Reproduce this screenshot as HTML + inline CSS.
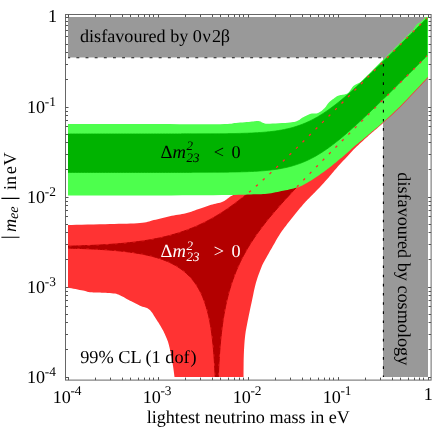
<!DOCTYPE html>
<html><head><meta charset="utf-8"><title>plot</title>
<style>
html,body{margin:0;padding:0;background:#fff;}
body{width:436px;height:436px;overflow:hidden;position:relative;font-family:"Liberation Serif",serif;}
text{font-family:"Liberation Serif",serif;text-rendering:geometricPrecision;}
</style></head><body>
<svg width="436" height="436" viewBox="0 0 436 436" style="position:absolute;left:0;top:0;will-change:transform">
<rect x="0" y="0" width="436" height="436" fill="#fff"/>
<path d="M68,17 H428 V377 H383 V57.6 H68 Z" fill="#999999"/>
<defs><clipPath id="c"><rect x="68" y="17" width="360" height="360"/></clipPath></defs>
<defs><clipPath id="cgreen"><path d="M60.00,124.00 L60.11,124.00 L59.70,124.00 L59.16,124.00 L58.88,124.00 L59.23,124.00 L60.61,124.00 L63.40,124.00 L68.00,124.00 L74.79,124.00 L83.58,124.00 L93.86,123.99 L105.12,123.99 L116.88,123.99 L128.61,123.99 L139.82,123.99 L150.00,124.00 L159.69,124.03 L169.61,124.07 L179.50,124.13 L189.12,124.18 L198.23,124.23 L206.58,124.25 L213.92,124.25 L220.00,124.20 L224.58,124.11 L227.80,123.98 L229.96,123.82 L231.38,123.64 L232.37,123.45 L233.27,123.26 L234.37,123.07 L236.00,122.90 L238.06,122.73 L240.22,122.56 L242.42,122.38 L244.59,122.21 L246.70,122.04 L248.67,121.88 L250.45,121.73 L252.00,121.60 L253.28,121.47 L254.33,121.34 L255.21,121.21 L255.95,121.10 L256.60,121.01 L257.22,120.96 L257.83,120.95 L258.50,121.00 L259.18,121.13 L259.82,121.32 L260.43,121.58 L261.01,121.86 L261.58,122.16 L262.15,122.44 L262.72,122.70 L263.30,122.90 L263.77,123.07 L264.08,123.22 L264.31,123.37 L264.58,123.49 L264.97,123.59 L265.61,123.67 L266.59,123.70 L268.00,123.70 L270.02,123.65 L272.61,123.56 L275.60,123.43 L278.79,123.27 L282.02,123.09 L285.08,122.90 L287.80,122.70 L290.00,122.50 L291.69,122.30 L293.06,122.10 L294.17,121.90 L295.07,121.67 L295.85,121.44 L296.55,121.18 L297.25,120.90 L298.00,120.60 L298.73,120.27 L299.35,119.90 L299.89,119.52 L300.39,119.11 L300.90,118.69 L301.44,118.27 L302.06,117.83 L302.80,117.40 L303.66,116.94 L304.61,116.44 L305.64,115.92 L306.70,115.39 L307.78,114.89 L308.86,114.43 L309.91,114.02 L310.90,113.70 L311.85,113.50 L312.78,113.41 L313.70,113.40 L314.61,113.42 L315.50,113.43 L316.38,113.39 L317.24,113.26 L318.10,113.00 L318.95,112.60 L319.81,112.10 L320.66,111.52 L321.50,110.89 L322.31,110.22 L323.09,109.53 L323.82,108.85 L324.50,108.20 L325.11,107.55 L325.65,106.88 L326.14,106.19 L326.60,105.50 L327.05,104.81 L327.50,104.15 L327.98,103.50 L328.50,102.90 L329.06,102.33 L329.64,101.79 L330.24,101.27 L330.84,100.77 L331.46,100.28 L332.07,99.81 L332.69,99.35 L333.30,98.90 L333.90,98.45 L334.48,98.00 L335.06,97.56 L335.65,97.13 L336.25,96.73 L336.87,96.35 L337.52,96.00 L338.20,95.70 L338.94,95.45 L339.75,95.26 L340.60,95.10 L341.46,94.97 L342.31,94.85 L343.13,94.72 L343.90,94.58 L344.60,94.40 L345.21,94.22 L345.77,94.05 L346.28,93.89 L346.75,93.72 L347.21,93.51 L347.66,93.25 L348.12,92.92 L348.60,92.50 L349.11,91.96 L349.62,91.29 L350.14,90.53 L350.65,89.74 L351.16,88.94 L351.66,88.17 L352.14,87.48 L352.60,86.90 L353.03,86.44 L353.43,86.04 L353.81,85.71 L354.19,85.42 L354.56,85.16 L354.95,84.91 L355.36,84.66 L355.80,84.40 L356.28,84.15 L356.78,83.93 L357.31,83.73 L357.84,83.54 L358.39,83.33 L358.93,83.10 L359.47,82.83 L360.00,82.50 L360.44,82.19 L360.76,81.94 L361.03,81.71 L361.32,81.42 L361.70,81.02 L362.25,80.46 L363.02,79.67 L364.10,78.60 L365.49,77.22 L367.15,75.59 L369.02,73.73 L371.06,71.71 L373.22,69.56 L375.46,67.32 L377.74,65.06 L380.00,62.80 L382.36,60.45 L384.90,57.91 L387.55,55.26 L390.24,52.56 L392.91,49.90 L395.47,47.34 L397.85,44.95 L400.00,42.80 L401.93,40.88 L403.73,39.11 L405.39,37.48 L406.94,35.96 L408.36,34.55 L409.68,33.23 L410.89,31.99 L412.00,30.80 L412.97,29.69 L413.78,28.66 L414.46,27.73 L415.04,26.88 L415.55,26.10 L416.03,25.40 L416.50,24.77 L417.00,24.20 L417.50,23.74 L417.96,23.41 L418.38,23.17 L418.79,23.00 L419.18,22.85 L419.57,22.69 L419.98,22.49 L420.40,22.20 L420.84,21.85 L421.28,21.46 L421.72,21.05 L422.16,20.63 L422.61,20.18 L423.07,19.72 L423.53,19.26 L424.00,18.80 L424.48,18.33 L424.97,17.84 L425.47,17.34 L425.98,16.84 L426.48,16.33 L426.99,15.81 L427.50,15.30 L428.00,14.80 L428.53,14.27 L429.09,13.71 L429.68,13.12 L430.25,12.55 L430.79,12.01 L431.28,11.52 L431.69,11.11 L432.00,10.80 L432.00,73.00 L431.86,73.13 L431.84,73.12 L431.85,73.09 L431.75,73.16 L431.43,73.46 L430.78,74.12 L429.68,75.26 L428.00,77.00 L425.59,79.53 L422.50,82.82 L418.91,86.64 L415.00,90.79 L410.97,95.06 L407.00,99.22 L403.28,103.07 L400.00,106.40 L397.03,109.32 L394.12,112.10 L391.33,114.71 L388.66,117.14 L386.17,119.39 L383.87,121.44 L381.80,123.28 L380.00,124.90 L378.55,126.19 L377.47,127.13 L376.66,127.81 L376.02,128.31 L375.48,128.73 L374.92,129.16 L374.26,129.69 L373.40,130.40 L372.37,131.28 L371.28,132.22 L370.14,133.20 L368.96,134.23 L367.76,135.26 L366.56,136.30 L365.37,137.32 L364.20,138.30 L363.05,139.25 L361.90,140.19 L360.75,141.11 L359.59,142.03 L358.44,142.95 L357.29,143.89 L356.15,144.83 L355.00,145.80 L353.86,146.79 L352.72,147.81 L351.58,148.85 L350.45,149.89 L349.32,150.93 L348.18,151.97 L347.04,152.99 L345.90,154.00 L344.75,154.99 L343.61,155.97 L342.46,156.94 L341.31,157.90 L340.15,158.86 L339.00,159.81 L337.85,160.76 L336.70,161.70 L335.55,162.64 L334.40,163.59 L333.25,164.53 L332.10,165.47 L330.95,166.40 L329.80,167.31 L328.65,168.22 L327.50,169.10 L326.35,169.97 L325.20,170.82 L324.05,171.66 L322.89,172.49 L321.74,173.31 L320.59,174.12 L319.45,174.91 L318.30,175.70 L317.16,176.48 L316.02,177.25 L314.88,178.01 L313.75,178.76 L312.62,179.49 L311.48,180.21 L310.34,180.92 L309.20,181.60 L308.06,182.27 L306.93,182.94 L305.79,183.60 L304.66,184.24 L303.51,184.86 L302.36,185.45 L301.19,185.99 L300.00,186.50 L298.77,186.96 L297.49,187.38 L296.18,187.76 L294.86,188.11 L293.57,188.44 L292.31,188.74 L291.11,189.03 L290.00,189.30 L289.04,189.54 L288.25,189.73 L287.55,189.89 L286.88,190.04 L286.15,190.18 L285.31,190.35 L284.29,190.55 L283.00,190.80 L281.43,191.12 L279.63,191.50 L277.66,191.92 L275.56,192.36 L273.40,192.78 L271.21,193.18 L269.06,193.53 L267.00,193.80 L265.04,193.99 L263.14,194.12 L261.26,194.20 L259.38,194.25 L257.44,194.28 L255.42,194.31 L253.29,194.34 L251.00,194.40 L248.93,194.48 L247.26,194.55 L245.69,194.63 L243.94,194.71 L241.69,194.78 L238.65,194.86 L234.52,194.93 L229.00,195.00 L221.87,195.07 L213.33,195.14 L203.68,195.22 L193.25,195.29 L182.35,195.35 L171.30,195.41 L160.41,195.46 L150.00,195.50 L139.39,195.52 L127.98,195.54 L116.22,195.54 L104.56,195.53 L93.46,195.52 L83.37,195.51 L74.73,195.50 L68.00,195.50 L63.40,195.50 L60.61,195.50 L59.23,195.50 L58.88,195.50 L59.16,195.50 L59.70,195.50 L60.11,195.50 L60.00,195.50Z"/></clipPath><clipPath id="cred"><path d="M60.00,195.50 L60.11,195.50 L59.70,195.50 L59.16,195.50 L58.88,195.50 L59.23,195.50 L60.61,195.50 L63.40,195.50 L68.00,195.50 L74.73,195.50 L83.37,195.51 L93.46,195.52 L104.56,195.53 L116.22,195.54 L127.98,195.54 L139.39,195.52 L150.00,195.50 L160.41,195.46 L171.30,195.41 L182.35,195.35 L193.25,195.29 L203.68,195.22 L213.33,195.14 L221.87,195.07 L229.00,195.00 L234.52,194.93 L238.65,194.86 L241.69,194.78 L243.94,194.71 L245.69,194.63 L247.26,194.55 L248.93,194.48 L251.00,194.40 L253.29,194.34 L255.42,194.31 L257.44,194.28 L259.38,194.25 L261.26,194.20 L263.14,194.12 L265.04,193.99 L267.00,193.80 L269.06,193.53 L271.21,193.18 L273.40,192.78 L275.56,192.36 L277.66,191.92 L279.63,191.50 L281.43,191.12 L283.00,190.80 L284.29,190.55 L285.31,190.35 L286.15,190.18 L286.88,190.04 L287.55,189.89 L288.25,189.73 L289.04,189.54 L290.00,189.30 L291.11,189.03 L292.31,188.74 L293.57,188.44 L294.86,188.11 L296.18,187.76 L297.49,187.38 L298.77,186.96 L300.00,186.50 L301.19,185.99 L302.36,185.45 L303.51,184.86 L304.66,184.24 L305.79,183.60 L306.93,182.94 L308.06,182.27 L309.20,181.60 L310.34,180.92 L311.48,180.21 L312.62,179.49 L313.75,178.76 L314.88,178.01 L316.02,177.25 L317.16,176.48 L318.30,175.70 L319.45,174.91 L320.59,174.12 L321.74,173.31 L322.89,172.49 L324.05,171.66 L325.20,170.82 L326.35,169.97 L327.50,169.10 L328.65,168.22 L329.80,167.31 L330.95,166.40 L332.10,165.47 L333.25,164.53 L334.40,163.59 L335.55,162.64 L336.70,161.70 L337.85,160.76 L339.00,159.81 L340.15,158.86 L341.31,157.90 L342.46,156.94 L343.61,155.97 L344.75,154.99 L345.90,154.00 L347.04,152.99 L348.18,151.97 L349.32,150.93 L350.45,149.89 L351.58,148.85 L352.72,147.81 L353.86,146.79 L355.00,145.80 L356.15,144.83 L357.29,143.89 L358.44,142.95 L359.59,142.03 L360.75,141.11 L361.90,140.19 L363.05,139.25 L364.20,138.30 L365.37,137.32 L366.56,136.30 L367.76,135.26 L368.96,134.23 L370.14,133.20 L371.28,132.22 L372.37,131.28 L373.40,130.40 L374.26,129.69 L374.92,129.16 L375.48,128.73 L376.02,128.31 L376.66,127.81 L377.47,127.13 L378.55,126.19 L380.00,124.90 L381.80,123.28 L383.87,121.44 L386.17,119.39 L388.66,117.14 L391.33,114.71 L394.12,112.10 L397.03,109.32 L400.00,106.40 L403.28,103.07 L407.00,99.22 L410.97,95.06 L415.00,90.79 L418.91,86.64 L422.50,82.82 L425.59,79.53 L428.00,77.00 L429.68,75.26 L430.78,74.12 L431.43,73.46 L431.75,73.16 L431.85,73.09 L431.84,73.12 L431.86,73.13 L432.00,73.00 L432,382 L60,382 Z"/></clipPath></defs>
<g clip-path="url(#c)">
<path d="M60.00,225.00 L60.38,225.01 L60.64,225.02 L60.92,225.04 L61.38,225.06 L62.16,225.07 L63.42,225.07 L65.32,225.05 L68.00,225.00 L71.71,224.92 L76.39,224.82 L81.79,224.69 L87.62,224.56 L93.63,224.41 L99.55,224.27 L105.09,224.13 L110.00,224.00 L114.43,223.90 L118.72,223.82 L122.84,223.75 L126.76,223.68 L130.46,223.59 L133.92,223.47 L137.11,223.31 L140.00,223.10 L142.49,222.83 L144.54,222.52 L146.26,222.17 L147.78,221.79 L149.18,221.38 L150.58,220.96 L152.08,220.53 L153.80,220.10 L155.69,219.65 L157.64,219.16 L159.63,218.66 L161.66,218.14 L163.70,217.63 L165.74,217.13 L167.78,216.65 L169.80,216.20 L171.82,215.80 L173.87,215.44 L175.94,215.11 L177.99,214.79 L180.03,214.47 L182.04,214.12 L184.00,213.74 L185.90,213.30 L187.74,212.80 L189.55,212.25 L191.31,211.67 L193.04,211.06 L194.73,210.45 L196.39,209.84 L198.01,209.25 L199.60,208.70 L201.14,208.17 L202.63,207.65 L204.07,207.15 L205.49,206.65 L206.88,206.17 L208.28,205.70 L209.68,205.24 L211.10,204.80 L212.57,204.39 L214.09,204.02 L215.62,203.68 L217.14,203.34 L218.63,203.00 L220.06,202.64 L221.39,202.25 L222.60,201.80 L223.70,201.29 L224.71,200.71 L225.63,200.09 L226.49,199.45 L227.29,198.82 L228.04,198.22 L228.74,197.67 L229.40,197.20 L229.98,196.83 L230.45,196.55 L230.83,196.32 L231.19,196.12 L231.54,195.92 L231.94,195.69 L232.41,195.39 L233.00,195.00 L233.76,194.47 L234.67,193.83 L235.68,193.11 L236.72,192.36 L237.74,191.63 L238.66,190.96 L239.44,190.40 L240.00,190.00 L300.00,150.00 L432.00,20.00 L432.00,74.00 L431.86,74.13 L431.84,74.12 L431.85,74.09 L431.75,74.16 L431.43,74.46 L430.78,75.12 L429.68,76.26 L428.00,78.00 L425.59,80.53 L422.50,83.82 L418.91,87.65 L415.00,91.80 L410.97,96.06 L407.00,100.23 L403.28,104.08 L400.00,107.40 L397.03,110.31 L394.12,113.07 L391.33,115.67 L388.66,118.09 L386.17,120.32 L383.87,122.36 L381.80,124.19 L380.00,125.80 L378.55,127.09 L377.47,128.04 L376.66,128.72 L376.03,129.24 L375.48,129.67 L374.92,130.12 L374.26,130.66 L373.40,131.40 L372.37,132.30 L371.28,133.26 L370.14,134.27 L368.96,135.31 L367.76,136.38 L366.56,137.46 L365.37,138.54 L364.20,139.60 L363.05,140.65 L361.90,141.70 L360.75,142.75 L359.59,143.81 L358.44,144.88 L357.29,145.96 L356.15,147.07 L355.00,148.20 L353.86,149.36 L352.72,150.54 L351.58,151.74 L350.45,152.96 L349.32,154.19 L348.18,155.43 L347.04,156.67 L345.90,157.90 L344.75,159.13 L343.61,160.36 L342.46,161.59 L341.31,162.83 L340.15,164.08 L339.00,165.34 L337.85,166.61 L336.70,167.90 L335.55,169.22 L334.40,170.56 L333.25,171.92 L332.10,173.29 L330.95,174.67 L329.80,176.03 L328.65,177.38 L327.50,178.70 L326.34,180.01 L325.16,181.34 L323.97,182.66 L322.78,183.96 L321.61,185.24 L320.47,186.48 L319.36,187.67 L318.30,188.80 L317.29,189.86 L316.33,190.85 L315.40,191.79 L314.50,192.69 L313.62,193.57 L312.75,194.43 L311.88,195.31 L311.00,196.20 L310.13,197.09 L309.29,197.94 L308.47,198.78 L307.64,199.62 L306.82,200.47 L305.97,201.36 L305.10,202.30 L304.20,203.30 L303.26,204.37 L302.28,205.49 L301.29,206.66 L300.27,207.87 L299.25,209.10 L298.23,210.33 L297.21,211.57 L296.20,212.80 L295.20,214.02 L294.20,215.24 L293.20,216.47 L292.21,217.71 L291.21,218.95 L290.21,220.22 L289.20,221.50 L288.20,222.80 L287.19,224.11 L286.18,225.42 L285.17,226.74 L284.15,228.08 L283.13,229.44 L282.12,230.84 L281.11,232.29 L280.10,233.80 L279.08,235.39 L278.05,237.08 L277.01,238.83 L275.98,240.61 L274.96,242.39 L273.96,244.14 L273.01,245.82 L272.10,247.40 L271.23,248.90 L270.40,250.36 L269.59,251.76 L268.82,253.13 L268.07,254.46 L267.35,255.74 L266.66,256.99 L266.00,258.20 L265.39,259.30 L264.83,260.27 L264.32,261.15 L263.82,262.02 L263.34,262.93 L262.83,263.94 L262.29,265.11 L261.70,266.50 L261.04,268.13 L260.33,269.95 L259.59,271.91 L258.82,273.98 L258.07,276.12 L257.33,278.30 L256.64,280.47 L256.00,282.60 L255.43,284.67 L254.92,286.73 L254.45,288.78 L253.99,290.87 L253.55,293.01 L253.10,295.23 L252.62,297.55 L252.10,300.00 L251.53,302.67 L250.90,305.57 L250.26,308.61 L249.60,311.71 L248.96,314.79 L248.35,317.75 L247.79,320.52 L247.30,323.00 L246.89,325.15 L246.52,327.04 L246.21,328.73 L245.93,330.31 L245.67,331.85 L245.44,333.43 L245.22,335.12 L245.00,337.00 L244.79,339.03 L244.60,341.12 L244.43,343.28 L244.28,345.50 L244.14,347.78 L244.01,350.12 L243.90,352.53 L243.80,355.00 L243.72,357.67 L243.65,360.62 L243.61,363.70 L243.58,366.81 L243.55,369.82 L243.53,372.60 L243.52,375.04 L243.50,377.00 L243.49,378.47 L243.48,379.56 L243.48,380.34 L243.48,380.88 L243.49,381.24 L243.49,381.50 L243.50,381.73 L243.50,382.00 L174.60,382.00 L174.60,381.63 L174.61,381.22 L174.63,380.73 L174.64,380.15 L174.64,379.44 L174.60,378.58 L174.53,377.54 L174.40,376.30 L174.22,374.79 L174.00,373.03 L173.74,371.06 L173.45,368.95 L173.14,366.76 L172.80,364.55 L172.45,362.38 L172.10,360.30 L171.73,358.25 L171.33,356.12 L170.91,353.97 L170.47,351.82 L170.03,349.74 L169.58,347.74 L169.14,345.88 L168.70,344.20 L168.27,342.70 L167.83,341.36 L167.39,340.14 L166.95,339.02 L166.51,337.97 L166.07,336.97 L165.63,335.99 L165.20,335.00 L164.79,334.05 L164.40,333.19 L164.02,332.38 L163.64,331.60 L163.24,330.82 L162.81,330.01 L162.33,329.15 L161.80,328.20 L161.21,327.17 L160.56,326.08 L159.88,324.94 L159.17,323.77 L158.43,322.58 L157.66,321.38 L156.89,320.19 L156.10,319.00 L155.31,317.78 L154.51,316.49 L153.70,315.17 L152.87,313.86 L152.01,312.59 L151.11,311.39 L150.18,310.32 L149.20,309.40 L148.17,308.67 L147.11,308.11 L146.01,307.67 L144.87,307.31 L143.70,306.97 L142.49,306.63 L141.26,306.22 L140.00,305.70 L138.67,305.07 L137.24,304.37 L135.75,303.62 L134.25,302.85 L132.77,302.08 L131.34,301.33 L130.00,300.63 L128.80,300.00 L127.74,299.43 L126.80,298.91 L125.94,298.42 L125.14,297.96 L124.37,297.53 L123.61,297.11 L122.83,296.70 L122.00,296.30 L121.19,295.90 L120.45,295.51 L119.74,295.14 L119.01,294.78 L118.22,294.44 L117.32,294.13 L116.26,293.85 L115.00,293.60 L113.48,293.39 L111.70,293.22 L109.75,293.07 L107.70,292.96 L105.62,292.86 L103.60,292.77 L101.70,292.68 L100.00,292.60 L98.47,292.53 L97.03,292.49 L95.67,292.46 L94.39,292.44 L93.17,292.41 L92.00,292.37 L90.88,292.30 L89.80,292.20 L88.84,292.07 L88.05,291.91 L87.36,291.74 L86.70,291.55 L86.00,291.34 L85.20,291.11 L84.22,290.87 L83.00,290.60 L81.47,290.29 L79.66,289.92 L77.67,289.51 L75.58,289.10 L73.47,288.70 L71.45,288.33 L69.60,288.02 L68.00,287.80 L66.61,287.67 L65.32,287.60 L64.14,287.59 L63.06,287.62 L62.11,287.68 L61.27,287.73 L60.57,287.78 L60.00,287.80Z" fill="#ff3333"/>
<path d="M68.00,246.18 L69.50,246.14 L71.00,246.10 L72.50,246.06 L74.00,246.02 L75.50,245.97 L77.00,245.93 L78.50,245.88 L80.00,245.83 L81.50,245.78 L83.00,245.73 L84.50,245.68 L86.00,245.62 L87.50,245.56 L89.00,245.50 L90.50,245.44 L92.00,245.37 L93.50,245.31 L95.00,245.24 L96.50,245.16 L98.00,245.09 L99.50,245.01 L101.00,244.93 L102.50,244.84 L104.00,244.75 L105.50,244.66 L107.00,244.57 L108.50,244.47 L110.00,244.37 L111.50,244.26 L113.00,244.15 L114.50,244.04 L116.00,243.92 L117.50,243.80 L119.00,243.68 L120.50,243.55 L122.00,243.41 L123.50,243.27 L125.00,243.13 L126.50,242.97 L128.00,242.82 L129.50,242.66 L131.00,242.49 L132.50,242.32 L134.00,242.14 L135.50,241.95 L137.00,241.76 L138.50,241.56 L140.00,241.35 L141.50,241.14 L143.00,240.92 L144.50,240.69 L146.00,240.46 L147.50,240.21 L149.00,239.96 L150.50,239.70 L152.00,239.43 L153.50,239.15 L155.00,238.86 L156.50,238.57 L158.00,238.26 L159.50,237.94 L161.00,237.61 L162.50,237.27 L164.00,236.93 L165.50,236.57 L167.00,236.19 L168.50,235.81 L170.00,235.42 L171.50,235.01 L173.00,234.59 L174.50,234.15 L176.00,233.71 L177.50,233.25 L179.00,232.78 L180.50,232.29 L182.00,231.79 L183.50,231.27 L185.00,230.74 L186.50,230.20 L188.00,229.64 L189.50,229.06 L191.00,228.47 L191.50,228.27 L192.00,228.07 L192.50,227.86 L193.00,227.66 L193.50,227.45 L194.00,227.24 L194.50,227.03 L195.00,226.81 L195.50,226.60 L196.00,226.38 L196.50,226.16 L197.00,225.94 L197.50,225.72 L198.00,225.50 L198.50,225.27 L199.00,225.04 L199.50,224.81 L200.00,224.58 L200.50,224.34 L201.00,224.11 L201.50,223.87 L202.00,223.63 L202.50,223.39 L203.00,223.14 L203.50,222.90 L204.00,222.65 L204.50,222.40 L205.00,222.15 L205.50,221.89 L206.00,221.64 L206.50,221.38 L207.00,221.12 L207.50,220.86 L208.00,220.60 L208.25,220.46 L208.50,220.33 L208.75,220.20 L209.00,220.06 L209.25,219.93 L209.50,219.79 L209.75,219.66 L210.00,219.52 L210.25,219.38 L210.50,219.25 L210.75,219.11 L211.00,218.97 L211.25,218.83 L211.50,218.69 L211.75,218.55 L212.00,218.41 L212.25,218.27 L212.50,218.13 L212.75,217.99 L213.00,217.85 L213.25,217.70 L213.50,217.56 L213.75,217.42 L214.00,217.27 L214.25,217.13 L214.50,216.98 L214.75,216.84 L215.00,216.69 L215.25,216.54 L215.50,216.40 L215.75,216.25 L216.00,216.10 L216.25,215.95 L216.50,215.80 L216.75,215.65 L217.00,215.50 L217.25,215.35 L217.50,215.20 L217.75,215.05 L218.00,214.90 L218.25,214.74 L218.50,214.59 L218.75,214.43 L219.00,214.28 L219.25,214.12 L219.50,213.97 L219.75,213.81 L220.00,213.66 L220.25,213.50 L220.50,213.34 L220.75,213.18 L221.00,213.03 L221.25,212.87 L221.50,212.71 L221.75,212.55 L222.00,212.39 L222.25,212.22 L222.50,212.06 L222.75,211.90 L223.00,211.74 L223.25,211.57 L223.50,211.41 L223.75,211.25 L224.00,211.08 L224.25,210.92 L224.50,210.75 L224.75,210.58 L225.00,210.42 L225.25,210.25 L225.50,210.08 L225.75,209.91 L226.00,209.75 L226.50,209.41 L227.00,209.07 L227.50,208.72 L228.00,208.38 L228.50,208.03 L229.00,207.68 L229.50,207.33 L230.00,206.98 L230.50,206.62 L231.00,206.27 L231.50,205.91 L232.00,205.55 L232.50,205.19 L233.00,204.82 L233.50,204.46 L234.00,204.09 L234.50,203.72 L235.00,203.35 L235.50,202.97 L236.00,202.60 L236.50,202.22 L237.00,201.84 L237.50,201.46 L238.00,201.08 L238.50,200.69 L239.00,200.31 L239.50,199.92 L240.00,199.53 L240.50,199.14 L241.00,198.74 L241.50,198.35 L242.00,197.95 L242.50,197.55 L243.00,197.15 L243.50,196.75 L244.00,196.35 L244.50,195.94 L245.00,195.54 L245.50,195.13 L246.00,194.72 L246.50,194.31 L247.00,193.90 L247.50,193.48 L248.00,193.07 L248.50,192.65 L249.00,192.23 L249.50,191.81 L250.00,191.39 L251.50,190.11 L253.00,188.83 L254.50,187.53 L256.00,186.22 L257.50,184.90 L259.00,183.57 L260.50,182.23 L262.00,180.89 L263.50,179.53 L265.00,178.16 L266.50,176.78 L268.00,175.40 L269.50,174.01 L271.00,172.61 L272.50,171.21 L274.00,169.80 L275.50,168.38 L277.00,166.96 L278.50,165.53 L280.00,164.10 L281.50,162.67 L283.00,161.22 L284.50,159.78 L286.00,158.33 L287.50,156.88 L289.00,155.42 L290.50,153.96 L292.00,152.50 L293.50,151.04 L295.00,149.57 L296.50,148.10 L298.00,146.63 L299.50,145.16 L301.00,143.68 L302.50,142.21 L304.00,140.73 L305.50,139.25 L307.00,137.77 L308.50,136.28 L310.00,134.80 L311.50,133.31 L313.00,131.83 L314.50,130.34 L316.00,128.85 L317.50,127.36 L319.00,125.87 L320.50,124.38 L322.00,122.89 L323.50,121.40 L325.00,119.91 L326.50,118.41 L328.00,116.92 L329.50,115.43 L331.00,113.93 L332.50,112.44 L334.00,110.94 L335.50,109.45 L337.00,107.95 L338.50,106.45 L340.00,104.96 L341.50,103.46 L343.00,101.96 L344.50,100.47 L346.00,98.97 L347.50,97.47 L349.00,95.97 L350.50,94.47 L352.00,92.98 L353.50,91.48 L355.00,89.98 L356.50,88.48 L358.00,86.98 L359.50,85.48 L361.00,83.99 L362.50,82.49 L364.00,80.99 L365.50,79.49 L367.00,77.99 L368.50,76.49 L370.00,74.99 L371.50,73.49 L373.00,71.99 L374.50,70.49 L376.00,68.99 L377.50,67.49 L379.00,65.99 L380.50,64.49 L382.00,62.99 L383.50,61.50 L385.00,60.00 L386.50,58.50 L388.00,57.00 L389.50,55.50 L391.00,54.00 L392.50,52.50 L394.00,51.00 L395.50,49.50 L397.00,48.00 L398.50,46.50 L400.00,45.00 L401.50,43.50 L403.00,42.00 L404.50,40.50 L406.00,39.00 L407.50,37.50 L409.00,36.00 L410.50,34.50 L412.00,33.00 L413.50,31.50 L415.00,30.00 L416.50,28.50 L418.00,27.00 L419.50,25.50 L421.00,24.00 L422.50,22.50 L424.00,21.00 L425.50,19.50 L427.00,18.00 L427.00,55.82 L425.50,57.32 L424.00,58.82 L422.50,60.32 L421.00,61.82 L419.50,63.32 L418.00,64.82 L416.50,66.32 L415.00,67.82 L413.50,69.32 L412.00,70.82 L410.50,72.32 L409.00,73.82 L407.50,75.32 L406.00,76.82 L404.50,78.32 L403.00,79.82 L401.50,81.32 L400.00,82.82 L398.50,84.33 L397.00,85.83 L395.50,87.33 L394.00,88.83 L392.50,90.33 L391.00,91.83 L389.50,93.33 L388.00,94.83 L386.50,96.33 L385.00,97.83 L383.50,99.33 L382.00,100.83 L380.50,102.33 L379.00,103.84 L377.50,105.34 L376.00,106.84 L374.50,108.34 L373.00,109.84 L371.50,111.34 L370.00,112.84 L368.50,114.35 L367.00,115.85 L365.50,117.35 L364.00,118.85 L362.50,120.36 L361.00,121.86 L359.50,123.36 L358.00,124.87 L356.50,126.37 L355.00,127.87 L353.50,129.38 L352.00,130.88 L350.50,132.39 L349.00,133.89 L347.50,135.40 L346.00,136.90 L344.50,138.41 L343.00,139.92 L341.50,141.43 L340.00,142.93 L338.50,144.44 L337.00,145.95 L335.50,147.46 L334.00,148.98 L332.50,150.49 L331.00,152.00 L329.50,153.52 L328.00,155.03 L326.50,156.55 L325.00,158.07 L323.50,159.59 L322.00,161.11 L320.50,162.63 L319.00,164.16 L317.50,165.68 L316.00,167.21 L314.50,168.74 L313.00,170.28 L311.50,171.81 L310.00,173.35 L308.50,174.90 L307.00,176.44 L305.50,177.99 L304.00,179.54 L302.50,181.10 L301.00,182.66 L299.50,184.23 L298.00,185.80 L296.50,187.38 L295.00,188.97 L293.50,190.56 L292.00,192.16 L290.50,193.76 L289.00,195.38 L287.50,197.00 L286.00,198.64 L284.50,200.28 L283.00,201.94 L281.50,203.61 L280.00,205.29 L278.50,206.98 L277.00,208.69 L275.50,210.42 L274.00,212.17 L272.50,213.94 L271.00,215.72 L269.50,217.53 L268.00,219.37 L266.50,221.23 L265.00,223.12 L263.50,225.04 L262.00,227.00 L260.50,229.00 L259.00,231.03 L257.50,233.11 L256.00,235.23 L254.50,237.41 L253.00,239.65 L251.50,241.95 L250.00,244.31 L249.50,245.12 L249.00,245.93 L248.50,246.76 L248.00,247.59 L247.50,248.43 L247.00,249.28 L246.50,250.15 L246.00,251.02 L245.50,251.90 L245.00,252.80 L244.50,253.71 L244.00,254.63 L243.50,255.56 L243.00,256.50 L242.50,257.46 L242.00,258.44 L241.50,259.43 L241.00,260.43 L240.50,261.46 L240.00,262.49 L239.50,263.55 L239.00,264.63 L238.50,265.72 L238.00,266.84 L237.50,267.97 L237.00,269.13 L236.50,270.31 L236.00,271.52 L235.50,272.76 L235.00,274.02 L234.50,275.31 L234.00,276.63 L233.50,277.98 L233.00,279.37 L232.50,280.80 L232.00,282.27 L231.50,283.77 L231.00,285.33 L230.50,286.93 L230.00,288.58 L229.50,290.29 L229.00,292.06 L228.50,293.89 L228.00,295.79 L227.50,297.78 L227.00,299.84 L226.50,302.00 L226.00,304.27 L225.75,305.44 L225.50,306.65 L225.25,307.88 L225.00,309.15 L224.75,310.46 L224.50,311.80 L224.25,313.19 L224.00,314.62 L223.75,316.09 L223.50,317.62 L223.25,319.20 L223.00,320.84 L222.75,322.54 L222.50,324.31 L222.25,326.15 L222.00,328.08 L221.75,330.10 L221.50,332.21 L221.25,334.43 L221.00,336.78 L220.75,339.26 L220.50,341.90 L220.25,344.71 L220.00,347.72 L219.75,350.97 L219.50,354.50 L219.25,358.36 L219.00,362.61 L218.75,367.36 L218.50,372.74 L218.25,377.00 L218.00,377.00 L217.75,377.00 L217.50,377.00 L217.25,377.00 L217.00,377.00 L216.75,377.00 L216.50,377.00 L216.25,377.00 L216.00,377.00 L215.75,377.00 L215.50,377.00 L215.25,377.00 L215.00,373.19 L214.75,368.13 L214.50,363.67 L214.25,359.69 L214.00,356.09 L213.75,352.81 L213.50,349.81 L213.25,347.03 L213.00,344.45 L212.75,342.04 L212.50,339.78 L212.25,337.65 L212.00,335.65 L211.75,333.75 L211.50,331.95 L211.25,330.24 L211.00,328.61 L210.75,327.05 L210.50,325.56 L210.25,324.13 L210.00,322.76 L209.75,321.44 L209.50,320.17 L209.25,318.95 L209.00,317.77 L208.75,316.63 L208.50,315.53 L208.25,314.47 L208.00,313.44 L207.50,311.47 L207.00,309.61 L206.50,307.86 L206.00,306.20 L205.50,304.63 L205.00,303.13 L204.50,301.70 L204.00,300.33 L203.50,299.03 L203.00,297.78 L202.50,296.58 L202.00,295.43 L201.50,294.33 L201.00,293.27 L200.50,292.24 L200.00,291.26 L199.50,290.30 L199.00,289.39 L198.50,288.50 L198.00,287.64 L197.50,286.80 L197.00,286.00 L196.50,285.22 L196.00,284.46 L195.50,283.73 L195.00,283.01 L194.50,282.32 L194.00,281.65 L193.50,280.99 L193.00,280.35 L192.50,279.74 L192.00,279.13 L191.50,278.54 L191.00,277.97 L189.50,276.34 L188.00,274.82 L186.50,273.41 L185.00,272.10 L183.50,270.87 L182.00,269.71 L180.50,268.63 L179.00,267.61 L177.50,266.65 L176.00,265.75 L174.50,264.90 L173.00,264.09 L171.50,263.33 L170.00,262.61 L168.50,261.92 L167.00,261.27 L165.50,260.66 L164.00,260.07 L162.50,259.51 L161.00,258.98 L159.50,258.48 L158.00,258.00 L156.50,257.54 L155.00,257.11 L153.50,256.69 L152.00,256.30 L150.50,255.92 L149.00,255.56 L147.50,255.21 L146.00,254.88 L144.50,254.57 L143.00,254.26 L141.50,253.98 L140.00,253.70 L138.50,253.44 L137.00,253.18 L135.50,252.94 L134.00,252.71 L132.50,252.49 L131.00,252.28 L129.50,252.07 L128.00,251.88 L126.50,251.69 L125.00,251.51 L123.50,251.34 L122.00,251.17 L120.50,251.02 L119.00,250.86 L117.50,250.72 L116.00,250.58 L114.50,250.44 L113.00,250.32 L111.50,250.19 L110.00,250.07 L108.50,249.96 L107.00,249.85 L105.50,249.75 L104.00,249.64 L102.50,249.55 L101.00,249.46 L99.50,249.37 L98.00,249.28 L96.50,249.20 L95.00,249.12 L93.50,249.04 L92.00,248.97 L90.50,248.90 L89.00,248.83 L87.50,248.77 L86.00,248.70 L84.50,248.64 L83.00,248.59 L81.50,248.53 L80.00,248.48 L78.50,248.43 L77.00,248.38 L75.50,248.33 L74.00,248.29 L72.50,248.24 L71.00,248.20 L69.50,248.16 L68.00,248.12Z" fill="#b30000" stroke="#b30000" stroke-width="1"/>
<path d="M60.00,124.00 L60.11,124.00 L59.70,124.00 L59.16,124.00 L58.88,124.00 L59.23,124.00 L60.61,124.00 L63.40,124.00 L68.00,124.00 L74.79,124.00 L83.58,124.00 L93.86,123.99 L105.12,123.99 L116.88,123.99 L128.61,123.99 L139.82,123.99 L150.00,124.00 L159.69,124.03 L169.61,124.07 L179.50,124.13 L189.12,124.18 L198.23,124.23 L206.58,124.25 L213.92,124.25 L220.00,124.20 L224.58,124.11 L227.80,123.98 L229.96,123.82 L231.38,123.64 L232.37,123.45 L233.27,123.26 L234.37,123.07 L236.00,122.90 L238.06,122.73 L240.22,122.56 L242.42,122.38 L244.59,122.21 L246.70,122.04 L248.67,121.88 L250.45,121.73 L252.00,121.60 L253.28,121.47 L254.33,121.34 L255.21,121.21 L255.95,121.10 L256.60,121.01 L257.22,120.96 L257.83,120.95 L258.50,121.00 L259.18,121.13 L259.82,121.32 L260.43,121.58 L261.01,121.86 L261.58,122.16 L262.15,122.44 L262.72,122.70 L263.30,122.90 L263.77,123.07 L264.08,123.22 L264.31,123.37 L264.58,123.49 L264.97,123.59 L265.61,123.67 L266.59,123.70 L268.00,123.70 L270.02,123.65 L272.61,123.56 L275.60,123.43 L278.79,123.27 L282.02,123.09 L285.08,122.90 L287.80,122.70 L290.00,122.50 L291.69,122.30 L293.06,122.10 L294.17,121.90 L295.07,121.67 L295.85,121.44 L296.55,121.18 L297.25,120.90 L298.00,120.60 L298.73,120.27 L299.35,119.90 L299.89,119.52 L300.39,119.11 L300.90,118.69 L301.44,118.27 L302.06,117.83 L302.80,117.40 L303.66,116.94 L304.61,116.44 L305.64,115.92 L306.70,115.39 L307.78,114.89 L308.86,114.43 L309.91,114.02 L310.90,113.70 L311.85,113.50 L312.78,113.41 L313.70,113.40 L314.61,113.42 L315.50,113.43 L316.38,113.39 L317.24,113.26 L318.10,113.00 L318.95,112.60 L319.81,112.10 L320.66,111.52 L321.50,110.89 L322.31,110.22 L323.09,109.53 L323.82,108.85 L324.50,108.20 L325.11,107.55 L325.65,106.88 L326.14,106.19 L326.60,105.50 L327.05,104.81 L327.50,104.15 L327.98,103.50 L328.50,102.90 L329.06,102.33 L329.64,101.79 L330.24,101.27 L330.84,100.77 L331.46,100.28 L332.07,99.81 L332.69,99.35 L333.30,98.90 L333.90,98.45 L334.48,98.00 L335.06,97.56 L335.65,97.13 L336.25,96.73 L336.87,96.35 L337.52,96.00 L338.20,95.70 L338.94,95.45 L339.75,95.26 L340.60,95.10 L341.46,94.97 L342.31,94.85 L343.13,94.72 L343.90,94.58 L344.60,94.40 L345.21,94.22 L345.77,94.05 L346.28,93.89 L346.75,93.72 L347.21,93.51 L347.66,93.25 L348.12,92.92 L348.60,92.50 L349.11,91.96 L349.62,91.29 L350.14,90.53 L350.65,89.74 L351.16,88.94 L351.66,88.17 L352.14,87.48 L352.60,86.90 L353.03,86.44 L353.43,86.04 L353.81,85.71 L354.19,85.42 L354.56,85.16 L354.95,84.91 L355.36,84.66 L355.80,84.40 L356.28,84.15 L356.78,83.93 L357.31,83.73 L357.84,83.54 L358.39,83.33 L358.93,83.10 L359.47,82.83 L360.00,82.50 L360.44,82.19 L360.76,81.94 L361.03,81.71 L361.32,81.42 L361.70,81.02 L362.25,80.46 L363.02,79.67 L364.10,78.60 L365.49,77.22 L367.15,75.59 L369.02,73.73 L371.06,71.71 L373.22,69.56 L375.46,67.32 L377.74,65.06 L380.00,62.80 L382.36,60.45 L384.90,57.91 L387.55,55.26 L390.24,52.56 L392.91,49.90 L395.47,47.34 L397.85,44.95 L400.00,42.80 L401.93,40.88 L403.73,39.11 L405.39,37.48 L406.94,35.96 L408.36,34.55 L409.68,33.23 L410.89,31.99 L412.00,30.80 L412.97,29.69 L413.78,28.66 L414.46,27.73 L415.04,26.88 L415.55,26.10 L416.03,25.40 L416.50,24.77 L417.00,24.20 L417.50,23.74 L417.96,23.41 L418.38,23.17 L418.79,23.00 L419.18,22.85 L419.57,22.69 L419.98,22.49 L420.40,22.20 L420.84,21.85 L421.28,21.46 L421.72,21.05 L422.16,20.63 L422.61,20.18 L423.07,19.72 L423.53,19.26 L424.00,18.80 L424.48,18.33 L424.97,17.84 L425.47,17.34 L425.98,16.84 L426.48,16.33 L426.99,15.81 L427.50,15.30 L428.00,14.80 L428.53,14.27 L429.09,13.71 L429.68,13.12 L430.25,12.55 L430.79,12.01 L431.28,11.52 L431.69,11.11 L432.00,10.80 L432.00,73.00 L431.86,73.13 L431.84,73.12 L431.85,73.09 L431.75,73.16 L431.43,73.46 L430.78,74.12 L429.68,75.26 L428.00,77.00 L425.59,79.53 L422.50,82.82 L418.91,86.64 L415.00,90.79 L410.97,95.06 L407.00,99.22 L403.28,103.07 L400.00,106.40 L397.03,109.32 L394.12,112.10 L391.33,114.71 L388.66,117.14 L386.17,119.39 L383.87,121.44 L381.80,123.28 L380.00,124.90 L378.55,126.19 L377.47,127.13 L376.66,127.81 L376.02,128.31 L375.48,128.73 L374.92,129.16 L374.26,129.69 L373.40,130.40 L372.37,131.28 L371.28,132.22 L370.14,133.20 L368.96,134.23 L367.76,135.26 L366.56,136.30 L365.37,137.32 L364.20,138.30 L363.05,139.25 L361.90,140.19 L360.75,141.11 L359.59,142.03 L358.44,142.95 L357.29,143.89 L356.15,144.83 L355.00,145.80 L353.86,146.79 L352.72,147.81 L351.58,148.85 L350.45,149.89 L349.32,150.93 L348.18,151.97 L347.04,152.99 L345.90,154.00 L344.75,154.99 L343.61,155.97 L342.46,156.94 L341.31,157.90 L340.15,158.86 L339.00,159.81 L337.85,160.76 L336.70,161.70 L335.55,162.64 L334.40,163.59 L333.25,164.53 L332.10,165.47 L330.95,166.40 L329.80,167.31 L328.65,168.22 L327.50,169.10 L326.35,169.97 L325.20,170.82 L324.05,171.66 L322.89,172.49 L321.74,173.31 L320.59,174.12 L319.45,174.91 L318.30,175.70 L317.16,176.48 L316.02,177.25 L314.88,178.01 L313.75,178.76 L312.62,179.49 L311.48,180.21 L310.34,180.92 L309.20,181.60 L308.06,182.27 L306.93,182.94 L305.79,183.60 L304.66,184.24 L303.51,184.86 L302.36,185.45 L301.19,185.99 L300.00,186.50 L298.77,186.96 L297.49,187.38 L296.18,187.76 L294.86,188.11 L293.57,188.44 L292.31,188.74 L291.11,189.03 L290.00,189.30 L289.04,189.54 L288.25,189.73 L287.55,189.89 L286.88,190.04 L286.15,190.18 L285.31,190.35 L284.29,190.55 L283.00,190.80 L281.43,191.12 L279.63,191.50 L277.66,191.92 L275.56,192.36 L273.40,192.78 L271.21,193.18 L269.06,193.53 L267.00,193.80 L265.04,193.99 L263.14,194.12 L261.26,194.20 L259.38,194.25 L257.44,194.28 L255.42,194.31 L253.29,194.34 L251.00,194.40 L248.93,194.48 L247.26,194.55 L245.69,194.63 L243.94,194.71 L241.69,194.78 L238.65,194.86 L234.52,194.93 L229.00,195.00 L221.87,195.07 L213.33,195.14 L203.68,195.22 L193.25,195.29 L182.35,195.35 L171.30,195.41 L160.41,195.46 L150.00,195.50 L139.39,195.52 L127.98,195.54 L116.22,195.54 L104.56,195.53 L93.46,195.52 L83.37,195.51 L74.73,195.50 L68.00,195.50 L63.40,195.50 L60.61,195.50 L59.23,195.50 L58.88,195.50 L59.16,195.50 L59.70,195.50 L60.11,195.50 L60.00,195.50Z" fill="#4dff4d"/>
<path d="M68.00,133.90 L69.50,133.90 L71.00,133.90 L72.50,133.90 L74.00,133.90 L75.50,133.90 L77.00,133.90 L78.50,133.90 L80.00,133.90 L81.50,133.90 L83.00,133.90 L84.50,133.90 L86.00,133.90 L87.50,133.90 L89.00,133.90 L90.50,133.90 L92.00,133.90 L93.50,133.90 L95.00,133.90 L96.50,133.90 L98.00,133.90 L99.50,133.90 L101.00,133.90 L102.50,133.90 L104.00,133.90 L105.50,133.90 L107.00,133.90 L108.50,133.90 L110.00,133.90 L111.50,133.90 L113.00,133.90 L114.50,133.90 L116.00,133.90 L117.50,133.90 L119.00,133.90 L120.50,133.90 L122.00,133.90 L123.50,133.90 L125.00,133.90 L126.50,133.90 L128.00,133.90 L129.50,133.90 L131.00,133.90 L132.50,133.90 L134.00,133.90 L135.50,133.90 L137.00,133.90 L138.50,133.90 L140.00,133.90 L141.50,133.90 L143.00,133.90 L144.50,133.90 L146.00,133.90 L147.50,133.90 L149.00,133.90 L150.50,133.90 L152.00,133.90 L153.50,133.89 L155.00,133.89 L156.50,133.89 L158.00,133.89 L159.50,133.89 L161.00,133.89 L162.50,133.89 L164.00,133.89 L165.50,133.89 L167.00,133.89 L168.50,133.89 L170.00,133.89 L171.50,133.89 L173.00,133.88 L174.50,133.88 L176.00,133.88 L177.50,133.88 L179.00,133.88 L180.50,133.88 L182.00,133.87 L183.50,133.87 L185.00,133.87 L186.50,133.87 L188.00,133.86 L189.50,133.86 L191.00,133.86 L191.50,133.86 L192.00,133.86 L192.50,133.86 L193.00,133.85 L193.50,133.85 L194.00,133.85 L194.50,133.85 L195.00,133.85 L195.50,133.85 L196.00,133.85 L196.50,133.85 L197.00,133.84 L197.50,133.84 L198.00,133.84 L198.50,133.84 L199.00,133.84 L199.50,133.84 L200.00,133.83 L200.50,133.83 L201.00,133.83 L201.50,133.83 L202.00,133.83 L202.50,133.83 L203.00,133.82 L203.50,133.82 L204.00,133.82 L204.50,133.82 L205.00,133.82 L205.50,133.81 L206.00,133.81 L206.50,133.81 L207.00,133.81 L207.50,133.80 L208.00,133.80 L208.25,133.80 L208.50,133.80 L208.75,133.80 L209.00,133.80 L209.25,133.79 L209.50,133.79 L209.75,133.79 L210.00,133.79 L210.25,133.79 L210.50,133.79 L210.75,133.79 L211.00,133.78 L211.25,133.78 L211.50,133.78 L211.75,133.78 L212.00,133.78 L212.25,133.78 L212.50,133.78 L212.75,133.77 L213.00,133.77 L213.25,133.77 L213.50,133.77 L213.75,133.77 L214.00,133.77 L214.25,133.76 L214.50,133.76 L214.75,133.76 L215.00,133.76 L215.25,133.76 L215.50,133.75 L215.75,133.75 L216.00,133.75 L216.25,133.75 L216.50,133.75 L216.75,133.75 L217.00,133.74 L217.25,133.74 L217.50,133.74 L217.75,133.74 L218.00,133.73 L218.25,133.73 L218.50,133.73 L218.75,133.73 L219.00,133.73 L219.25,133.72 L219.50,133.72 L219.75,133.72 L220.00,133.72 L220.25,133.71 L220.50,133.71 L220.75,133.71 L221.00,133.71 L221.25,133.70 L221.50,133.70 L221.75,133.70 L222.00,133.70 L222.25,133.69 L222.50,133.69 L222.75,133.69 L223.00,133.69 L223.25,133.68 L223.50,133.68 L223.75,133.68 L224.00,133.68 L224.25,133.67 L224.50,133.67 L224.75,133.67 L225.00,133.66 L225.25,133.66 L225.50,133.66 L225.75,133.65 L226.00,133.65 L226.50,133.64 L227.00,133.64 L227.50,133.63 L228.00,133.62 L228.50,133.62 L229.00,133.61 L229.50,133.60 L230.00,133.60 L230.50,133.59 L231.00,133.58 L231.50,133.57 L232.00,133.56 L232.50,133.55 L233.00,133.54 L233.50,133.54 L234.00,133.53 L234.50,133.52 L235.00,133.51 L235.50,133.50 L236.00,133.49 L236.50,133.48 L237.00,133.46 L237.50,133.45 L238.00,133.44 L238.50,133.43 L239.00,133.42 L239.50,133.41 L240.00,133.39 L240.50,133.38 L241.00,133.37 L241.50,133.35 L242.00,133.34 L242.50,133.33 L243.00,133.31 L243.50,133.30 L244.00,133.28 L244.50,133.26 L245.00,133.25 L245.50,133.23 L246.00,133.21 L246.50,133.20 L247.00,133.18 L247.50,133.16 L248.00,133.14 L248.50,133.12 L249.00,133.10 L249.50,133.08 L250.00,133.06 L251.50,133.00 L253.00,132.93 L254.50,132.85 L256.00,132.77 L257.50,132.68 L259.00,132.59 L260.50,132.49 L262.00,132.38 L263.50,132.26 L265.00,132.14 L266.50,132.00 L268.00,131.86 L269.50,131.70 L271.00,131.54 L272.50,131.36 L274.00,131.17 L275.50,130.97 L277.00,130.75 L278.50,130.52 L280.00,130.28 L281.50,130.02 L283.00,129.74 L284.50,129.44 L286.00,129.12 L287.50,128.79 L289.00,128.43 L290.50,128.06 L292.00,127.66 L293.50,127.24 L295.00,126.79 L296.50,126.32 L298.00,125.83 L299.50,125.31 L301.00,124.76 L302.50,124.18 L304.00,123.58 L305.50,122.95 L307.00,122.30 L308.50,121.61 L310.00,120.90 L311.50,120.15 L313.00,119.38 L314.50,118.58 L316.00,117.75 L317.50,116.89 L319.00,116.01 L320.50,115.09 L322.00,114.15 L323.50,113.19 L325.00,112.19 L326.50,111.17 L328.00,110.13 L329.50,109.06 L331.00,107.97 L332.50,106.86 L334.00,105.73 L335.50,104.57 L337.00,103.39 L338.50,102.20 L340.00,100.99 L341.50,99.76 L343.00,98.51 L344.50,97.25 L346.00,95.97 L347.50,94.68 L349.00,93.37 L350.50,92.06 L352.00,90.73 L353.50,89.39 L355.00,88.03 L356.50,86.67 L358.00,85.30 L359.50,83.92 L361.00,82.54 L362.50,81.14 L364.00,79.74 L365.50,78.33 L367.00,76.91 L368.50,75.49 L370.00,74.06 L371.50,72.63 L373.00,71.19 L374.50,69.75 L376.00,68.31 L377.50,66.86 L379.00,65.40 L380.50,63.95 L382.00,62.49 L383.50,61.02 L385.00,59.56 L386.50,58.09 L388.00,56.62 L389.50,55.15 L391.00,53.68 L392.50,52.20 L394.00,50.72 L395.50,49.24 L397.00,47.76 L398.50,46.28 L400.00,44.79 L401.50,43.31 L403.00,41.82 L404.50,40.34 L406.00,38.85 L407.50,37.36 L409.00,35.87 L410.50,34.38 L412.00,32.89 L413.50,31.40 L415.00,29.90 L416.50,28.41 L418.00,26.92 L419.50,25.42 L421.00,23.93 L422.50,22.43 L424.00,20.94 L425.50,19.44 L427.00,17.95 L427.00,55.77 L425.50,57.27 L424.00,58.76 L422.50,60.26 L421.00,61.75 L419.50,63.25 L418.00,64.74 L416.50,66.23 L415.00,67.73 L413.50,69.22 L412.00,70.71 L410.50,72.20 L409.00,73.69 L407.50,75.18 L406.00,76.67 L404.50,78.16 L403.00,79.65 L401.50,81.14 L400.00,82.62 L398.50,84.11 L397.00,85.59 L395.50,87.07 L394.00,88.55 L392.50,90.03 L391.00,91.51 L389.50,92.98 L388.00,94.45 L386.50,95.93 L385.00,97.39 L383.50,98.86 L382.00,100.32 L380.50,101.79 L379.00,103.24 L377.50,104.70 L376.00,106.15 L374.50,107.60 L373.00,109.04 L371.50,110.48 L370.00,111.92 L368.50,113.34 L367.00,114.77 L365.50,116.19 L364.00,117.60 L362.50,119.01 L361.00,120.41 L359.50,121.80 L358.00,123.18 L356.50,124.56 L355.00,125.92 L353.50,127.28 L352.00,128.62 L350.50,129.96 L349.00,131.28 L347.50,132.59 L346.00,133.89 L344.50,135.17 L343.00,136.44 L341.50,137.70 L340.00,138.94 L338.50,140.16 L337.00,141.36 L335.50,142.55 L334.00,143.71 L332.50,144.85 L331.00,145.98 L329.50,147.08 L328.00,148.16 L326.50,149.21 L325.00,150.24 L323.50,151.25 L322.00,152.23 L320.50,153.18 L319.00,154.11 L317.50,155.01 L316.00,155.88 L314.50,156.72 L313.00,157.53 L311.50,158.32 L310.00,159.08 L308.50,159.80 L307.00,160.50 L305.50,161.17 L304.00,161.82 L302.50,162.43 L301.00,163.02 L299.50,163.58 L298.00,164.11 L296.50,164.62 L295.00,165.10 L293.50,165.55 L292.00,165.99 L290.50,166.40 L289.00,166.78 L287.50,167.15 L286.00,167.49 L284.50,167.82 L283.00,168.12 L281.50,168.41 L280.00,168.68 L278.50,168.93 L277.00,169.17 L275.50,169.39 L274.00,169.60 L272.50,169.80 L271.00,169.98 L269.50,170.15 L268.00,170.31 L266.50,170.46 L265.00,170.60 L263.50,170.72 L262.00,170.85 L260.50,170.96 L259.00,171.06 L257.50,171.16 L256.00,171.25 L254.50,171.33 L253.00,171.41 L251.50,171.49 L250.00,171.55 L249.50,171.57 L249.00,171.60 L248.50,171.62 L248.00,171.64 L247.50,171.66 L247.00,171.67 L246.50,171.69 L246.00,171.71 L245.50,171.73 L245.00,171.75 L244.50,171.76 L244.00,171.78 L243.50,171.79 L243.00,171.81 L242.50,171.83 L242.00,171.84 L241.50,171.85 L241.00,171.87 L240.50,171.88 L240.00,171.90 L239.50,171.91 L239.00,171.92 L238.50,171.93 L238.00,171.95 L237.50,171.96 L237.00,171.97 L236.50,171.98 L236.00,171.99 L235.50,172.00 L235.00,172.01 L234.50,172.02 L234.00,172.03 L233.50,172.04 L233.00,172.05 L232.50,172.06 L232.00,172.07 L231.50,172.08 L231.00,172.09 L230.50,172.10 L230.00,172.10 L229.50,172.11 L229.00,172.12 L228.50,172.13 L228.00,172.14 L227.50,172.14 L227.00,172.15 L226.50,172.16 L226.00,172.16 L225.75,172.17 L225.50,172.17 L225.25,172.17 L225.00,172.18 L224.75,172.18 L224.50,172.18 L224.25,172.19 L224.00,172.19 L223.75,172.19 L223.50,172.19 L223.25,172.20 L223.00,172.20 L222.75,172.20 L222.50,172.21 L222.25,172.21 L222.00,172.21 L221.75,172.21 L221.50,172.22 L221.25,172.22 L221.00,172.22 L220.75,172.22 L220.50,172.23 L220.25,172.23 L220.00,172.23 L219.75,172.23 L219.50,172.24 L219.25,172.24 L219.00,172.24 L218.75,172.24 L218.50,172.25 L218.25,172.25 L218.00,172.25 L217.75,172.25 L217.50,172.25 L217.25,172.26 L217.00,172.26 L216.75,172.26 L216.50,172.26 L216.25,172.26 L216.00,172.27 L215.75,172.27 L215.50,172.27 L215.25,172.27 L215.00,172.27 L214.75,172.28 L214.50,172.28 L214.25,172.28 L214.00,172.28 L213.75,172.28 L213.50,172.28 L213.25,172.29 L213.00,172.29 L212.75,172.29 L212.50,172.29 L212.25,172.29 L212.00,172.29 L211.75,172.30 L211.50,172.30 L211.25,172.30 L211.00,172.30 L210.75,172.30 L210.50,172.30 L210.25,172.31 L210.00,172.31 L209.75,172.31 L209.50,172.31 L209.25,172.31 L209.00,172.31 L208.75,172.31 L208.50,172.32 L208.25,172.32 L208.00,172.32 L207.50,172.32 L207.00,172.32 L206.50,172.33 L206.00,172.33 L205.50,172.33 L205.00,172.33 L204.50,172.34 L204.00,172.34 L203.50,172.34 L203.00,172.34 L202.50,172.34 L202.00,172.35 L201.50,172.35 L201.00,172.35 L200.50,172.35 L200.00,172.35 L199.50,172.35 L199.00,172.36 L198.50,172.36 L198.00,172.36 L197.50,172.36 L197.00,172.36 L196.50,172.36 L196.00,172.37 L195.50,172.37 L195.00,172.37 L194.50,172.37 L194.00,172.37 L193.50,172.37 L193.00,172.37 L192.50,172.37 L192.00,172.38 L191.50,172.38 L191.00,172.38 L189.50,172.38 L188.00,172.38 L186.50,172.39 L185.00,172.39 L183.50,172.39 L182.00,172.39 L180.50,172.40 L179.00,172.40 L177.50,172.40 L176.00,172.40 L174.50,172.40 L173.00,172.40 L171.50,172.41 L170.00,172.41 L168.50,172.41 L167.00,172.41 L165.50,172.41 L164.00,172.41 L162.50,172.41 L161.00,172.41 L159.50,172.41 L158.00,172.41 L156.50,172.41 L155.00,172.41 L153.50,172.42 L152.00,172.42 L150.50,172.42 L149.00,172.42 L147.50,172.42 L146.00,172.42 L144.50,172.42 L143.00,172.42 L141.50,172.42 L140.00,172.42 L138.50,172.42 L137.00,172.42 L135.50,172.42 L134.00,172.42 L132.50,172.42 L131.00,172.42 L129.50,172.42 L128.00,172.42 L126.50,172.42 L125.00,172.42 L123.50,172.42 L122.00,172.42 L120.50,172.42 L119.00,172.42 L117.50,172.42 L116.00,172.42 L114.50,172.42 L113.00,172.42 L111.50,172.42 L110.00,172.42 L108.50,172.42 L107.00,172.42 L105.50,172.42 L104.00,172.42 L102.50,172.42 L101.00,172.42 L99.50,172.42 L98.00,172.42 L96.50,172.42 L95.00,172.42 L93.50,172.42 L92.00,172.42 L90.50,172.42 L89.00,172.42 L87.50,172.42 L86.00,172.42 L84.50,172.42 L83.00,172.42 L81.50,172.42 L80.00,172.42 L78.50,172.42 L77.00,172.42 L75.50,172.42 L74.00,172.42 L72.50,172.42 L71.00,172.42 L69.50,172.42 L68.00,172.42Z" fill="#00b300" stroke="#00b300" stroke-width="0.7"/>
</g>
<path d="M68,57.8 H383.3" stroke="#1a1a1a" stroke-width="1.1" stroke-dasharray="2.9 6.247" stroke-dashoffset="0.75" fill="none"/>
<path d="M383.4,58.1 V377" stroke="#000" stroke-width="1.1" stroke-dasharray="2.6 6.56" stroke-dashoffset="3.26" fill="none"/>
<path d="M427.00,18.00 L425.50,19.50 L424.00,21.00 L422.50,22.50 L421.00,24.00 L419.50,25.50 L418.00,27.00 L416.50,28.50 L415.00,30.00 L413.50,31.50 L412.00,33.00 L410.50,34.50 L409.00,36.00 L407.50,37.50 L406.00,39.00 L404.50,40.50 L403.00,42.00 L401.50,43.50 L400.00,45.00 L398.50,46.50 L397.00,48.00 L395.50,49.50 L394.00,51.00 L392.50,52.50 L391.00,54.00 L389.50,55.50 L388.00,57.00 L386.50,58.50 L385.00,60.00 L383.50,61.50 L382.00,62.99 L380.50,64.49 L379.00,65.99 L377.50,67.49 L376.00,68.99 L374.50,70.49 L373.00,71.99 L371.50,73.49 L370.00,74.99 L368.50,76.49 L367.00,77.99 L365.50,79.49 L364.00,80.99 L362.50,82.49 L361.00,83.99 L359.50,85.48 L358.00,86.98 L356.50,88.48 L355.00,89.98 L353.50,91.48 L352.00,92.98 L350.50,94.47 L349.00,95.97 L347.50,97.47 L346.00,98.97 L344.50,100.47 L343.00,101.96 L341.50,103.46 L340.00,104.96 L338.50,106.45 L337.00,107.95 L335.50,109.45 L334.00,110.94 L332.50,112.44 L331.00,113.93 L329.50,115.43 L328.00,116.92 L326.50,118.41 L325.00,119.91 L323.50,121.40 L322.00,122.89 L320.50,124.38 L319.00,125.87 L317.50,127.36 L316.00,128.85 L314.50,130.34 L313.00,131.83 L311.50,133.31 L310.00,134.80 L308.50,136.28 L307.00,137.77 L305.50,139.25 L304.00,140.73 L302.50,142.21 L301.00,143.68 L299.50,145.16 L298.00,146.63 L296.50,148.10 L295.00,149.57 L293.50,151.04 L292.00,152.50 L290.50,153.96 L289.00,155.42 L287.50,156.88 L286.00,158.33 L284.50,159.78 L283.00,161.22 L281.50,162.67 L280.00,164.10 L278.50,165.53 L277.00,166.96 L275.50,168.38 L274.00,169.80 L272.50,171.21 L271.00,172.61 L269.50,174.01 L268.00,175.40 L266.50,176.78 L265.00,178.16 L263.50,179.53 L262.00,180.89 L260.50,182.23 L259.00,183.57 L257.50,184.90 L256.00,186.22 L254.50,187.53 L253.00,188.83 L251.50,190.11 L250.00,191.39 L249.50,191.81 L249.00,192.23 L248.50,192.65 L248.00,193.07 L247.50,193.48 L247.00,193.90 L246.50,194.31 L246.00,194.72 L245.50,195.13 L245.00,195.54 L244.50,195.94 L244.00,196.35 L243.50,196.75 L243.00,197.15 L242.50,197.55 L242.00,197.95 L241.50,198.35 L241.00,198.74 L240.50,199.14 L240.00,199.53 L239.50,199.92 L239.00,200.31 L238.50,200.69 L238.00,201.08 L237.50,201.46 L237.00,201.84 L236.50,202.22 L236.00,202.60 L235.50,202.97 L235.00,203.35 L234.50,203.72 L234.00,204.09 L233.50,204.46 L233.00,204.82 L232.50,205.19 L232.00,205.55 L231.50,205.91 L231.00,206.27 L230.50,206.62 L230.00,206.98 L229.50,207.33 L229.00,207.68 L228.50,208.03 L228.00,208.38 L227.50,208.72 L227.00,209.07 L226.50,209.41 L226.00,209.75 L225.75,209.91 L225.50,210.08 L225.25,210.25 L225.00,210.42 L224.75,210.58 L224.50,210.75 L224.25,210.92 L224.00,211.08 L223.75,211.25 L223.50,211.41 L223.25,211.57 L223.00,211.74 L222.75,211.90 L222.50,212.06 L222.25,212.22 L222.00,212.39 L221.75,212.55 L221.50,212.71 L221.25,212.87 L221.00,213.03 L220.75,213.18 L220.50,213.34 L220.25,213.50 L220.00,213.66 L219.75,213.81 L219.50,213.97 L219.25,214.12 L219.00,214.28 L218.75,214.43 L218.50,214.59 L218.25,214.74 L218.00,214.90 L217.75,215.05 L217.50,215.20 L217.25,215.35 L217.00,215.50 L216.75,215.65 L216.50,215.80 L216.25,215.95 L216.00,216.10 L215.75,216.25 L215.50,216.40 L215.25,216.54 L215.00,216.69 L214.75,216.84 L214.50,216.98 L214.25,217.13 L214.00,217.27 L213.75,217.42 L213.50,217.56 L213.25,217.70 L213.00,217.85 L212.75,217.99 L212.50,218.13 L212.25,218.27 L212.00,218.41 L211.75,218.55 L211.50,218.69 L211.25,218.83 L211.00,218.97 L210.75,219.11 L210.50,219.25 L210.25,219.38 L210.00,219.52 L209.75,219.66 L209.50,219.79 L209.25,219.93 L209.00,220.06 L208.75,220.20 L208.50,220.33 L208.25,220.46 L208.00,220.60 L207.50,220.86 L207.00,221.12 L206.50,221.38 L206.00,221.64 L205.50,221.89 L205.00,222.15 L204.50,222.40 L204.00,222.65 L203.50,222.90 L203.00,223.14 L202.50,223.39 L202.00,223.63 L201.50,223.87 L201.00,224.11 L200.50,224.34 L200.00,224.58 L199.50,224.81 L199.00,225.04 L198.50,225.27 L198.00,225.50 L197.50,225.72 L197.00,225.94 L196.50,226.16 L196.00,226.38 L195.50,226.60 L195.00,226.81 L194.50,227.03 L194.00,227.24 L193.50,227.45 L193.00,227.66 L192.50,227.86 L192.00,228.07 L191.50,228.27 L191.00,228.47 L189.50,229.06 L188.00,229.64 L186.50,230.20 L185.00,230.74 L183.50,231.27 L182.00,231.79 L180.50,232.29 L179.00,232.78 L177.50,233.25 L176.00,233.71 L174.50,234.15 L173.00,234.59 L171.50,235.01 L170.00,235.42 L168.50,235.81 L167.00,236.19 L165.50,236.57 L164.00,236.93 L162.50,237.27 L161.00,237.61 L159.50,237.94 L158.00,238.26 L156.50,238.57 L155.00,238.86 L153.50,239.15 L152.00,239.43 L150.50,239.70 L149.00,239.96 L147.50,240.21 L146.00,240.46 L144.50,240.69 L143.00,240.92 L141.50,241.14 L140.00,241.35 L138.50,241.56 L137.00,241.76 L135.50,241.95 L134.00,242.14 L132.50,242.32 L131.00,242.49 L129.50,242.66 L128.00,242.82 L126.50,242.97 L125.00,243.13 L123.50,243.27 L122.00,243.41 L120.50,243.55 L119.00,243.68 L117.50,243.80 L116.00,243.92 L114.50,244.04 L113.00,244.15 L111.50,244.26 L110.00,244.37 L108.50,244.47 L107.00,244.57 L105.50,244.66 L104.00,244.75 L102.50,244.84 L101.00,244.93 L99.50,245.01 L98.00,245.09 L96.50,245.16 L95.00,245.24 L93.50,245.31 L92.00,245.37 L90.50,245.44 L89.00,245.50 L87.50,245.56 L86.00,245.62 L84.50,245.68 L83.00,245.73 L81.50,245.78 L80.00,245.83 L78.50,245.88 L77.00,245.93 L75.50,245.97 L74.00,246.02 L72.50,246.06 L71.00,246.10 L69.50,246.14 L68.00,246.18" stroke="#ff2a2a" stroke-width="1" stroke-opacity="0.5" stroke-dasharray="2.5 6.665" stroke-dashoffset="0.8" fill="none" clip-path="url(#cred)"/>
<path d="M427.00,18.00 L425.50,19.50 L424.00,21.00 L422.50,22.50 L421.00,24.00 L419.50,25.50 L418.00,27.00 L416.50,28.50 L415.00,30.00 L413.50,31.50 L412.00,33.00 L410.50,34.50 L409.00,36.00 L407.50,37.50 L406.00,39.00 L404.50,40.50 L403.00,42.00 L401.50,43.50 L400.00,45.00 L398.50,46.50 L397.00,48.00 L395.50,49.50 L394.00,51.00 L392.50,52.50 L391.00,54.00 L389.50,55.50 L388.00,57.00 L386.50,58.50 L385.00,60.00 L383.50,61.50 L382.00,62.99 L380.50,64.49 L379.00,65.99 L377.50,67.49 L376.00,68.99 L374.50,70.49 L373.00,71.99 L371.50,73.49 L370.00,74.99 L368.50,76.49 L367.00,77.99 L365.50,79.49 L364.00,80.99 L362.50,82.49 L361.00,83.99 L359.50,85.48 L358.00,86.98 L356.50,88.48 L355.00,89.98 L353.50,91.48 L352.00,92.98 L350.50,94.47 L349.00,95.97 L347.50,97.47 L346.00,98.97 L344.50,100.47 L343.00,101.96 L341.50,103.46 L340.00,104.96 L338.50,106.45 L337.00,107.95 L335.50,109.45 L334.00,110.94 L332.50,112.44 L331.00,113.93 L329.50,115.43 L328.00,116.92 L326.50,118.41 L325.00,119.91 L323.50,121.40 L322.00,122.89 L320.50,124.38 L319.00,125.87 L317.50,127.36 L316.00,128.85 L314.50,130.34 L313.00,131.83 L311.50,133.31 L310.00,134.80 L308.50,136.28 L307.00,137.77 L305.50,139.25 L304.00,140.73 L302.50,142.21 L301.00,143.68 L299.50,145.16 L298.00,146.63 L296.50,148.10 L295.00,149.57 L293.50,151.04 L292.00,152.50 L290.50,153.96 L289.00,155.42 L287.50,156.88 L286.00,158.33 L284.50,159.78 L283.00,161.22 L281.50,162.67 L280.00,164.10 L278.50,165.53 L277.00,166.96 L275.50,168.38 L274.00,169.80 L272.50,171.21 L271.00,172.61 L269.50,174.01 L268.00,175.40 L266.50,176.78 L265.00,178.16 L263.50,179.53 L262.00,180.89 L260.50,182.23 L259.00,183.57 L257.50,184.90 L256.00,186.22 L254.50,187.53 L253.00,188.83 L251.50,190.11 L250.00,191.39 L249.50,191.81 L249.00,192.23 L248.50,192.65 L248.00,193.07 L247.50,193.48 L247.00,193.90 L246.50,194.31 L246.00,194.72 L245.50,195.13 L245.00,195.54 L244.50,195.94 L244.00,196.35 L243.50,196.75 L243.00,197.15 L242.50,197.55 L242.00,197.95 L241.50,198.35 L241.00,198.74 L240.50,199.14 L240.00,199.53 L239.50,199.92 L239.00,200.31 L238.50,200.69 L238.00,201.08 L237.50,201.46 L237.00,201.84 L236.50,202.22 L236.00,202.60 L235.50,202.97 L235.00,203.35 L234.50,203.72 L234.00,204.09 L233.50,204.46 L233.00,204.82 L232.50,205.19 L232.00,205.55 L231.50,205.91 L231.00,206.27 L230.50,206.62 L230.00,206.98 L229.50,207.33 L229.00,207.68 L228.50,208.03 L228.00,208.38 L227.50,208.72 L227.00,209.07 L226.50,209.41 L226.00,209.75 L225.75,209.91 L225.50,210.08 L225.25,210.25 L225.00,210.42 L224.75,210.58 L224.50,210.75 L224.25,210.92 L224.00,211.08 L223.75,211.25 L223.50,211.41 L223.25,211.57 L223.00,211.74 L222.75,211.90 L222.50,212.06 L222.25,212.22 L222.00,212.39 L221.75,212.55 L221.50,212.71 L221.25,212.87 L221.00,213.03 L220.75,213.18 L220.50,213.34 L220.25,213.50 L220.00,213.66 L219.75,213.81 L219.50,213.97 L219.25,214.12 L219.00,214.28 L218.75,214.43 L218.50,214.59 L218.25,214.74 L218.00,214.90 L217.75,215.05 L217.50,215.20 L217.25,215.35 L217.00,215.50 L216.75,215.65 L216.50,215.80 L216.25,215.95 L216.00,216.10 L215.75,216.25 L215.50,216.40 L215.25,216.54 L215.00,216.69 L214.75,216.84 L214.50,216.98 L214.25,217.13 L214.00,217.27 L213.75,217.42 L213.50,217.56 L213.25,217.70 L213.00,217.85 L212.75,217.99 L212.50,218.13 L212.25,218.27 L212.00,218.41 L211.75,218.55 L211.50,218.69 L211.25,218.83 L211.00,218.97 L210.75,219.11 L210.50,219.25 L210.25,219.38 L210.00,219.52 L209.75,219.66 L209.50,219.79 L209.25,219.93 L209.00,220.06 L208.75,220.20 L208.50,220.33 L208.25,220.46 L208.00,220.60 L207.50,220.86 L207.00,221.12 L206.50,221.38 L206.00,221.64 L205.50,221.89 L205.00,222.15 L204.50,222.40 L204.00,222.65 L203.50,222.90 L203.00,223.14 L202.50,223.39 L202.00,223.63 L201.50,223.87 L201.00,224.11 L200.50,224.34 L200.00,224.58 L199.50,224.81 L199.00,225.04 L198.50,225.27 L198.00,225.50 L197.50,225.72 L197.00,225.94 L196.50,226.16 L196.00,226.38 L195.50,226.60 L195.00,226.81 L194.50,227.03 L194.00,227.24 L193.50,227.45 L193.00,227.66 L192.50,227.86 L192.00,228.07 L191.50,228.27 L191.00,228.47 L189.50,229.06 L188.00,229.64 L186.50,230.20 L185.00,230.74 L183.50,231.27 L182.00,231.79 L180.50,232.29 L179.00,232.78 L177.50,233.25 L176.00,233.71 L174.50,234.15 L173.00,234.59 L171.50,235.01 L170.00,235.42 L168.50,235.81 L167.00,236.19 L165.50,236.57 L164.00,236.93 L162.50,237.27 L161.00,237.61 L159.50,237.94 L158.00,238.26 L156.50,238.57 L155.00,238.86 L153.50,239.15 L152.00,239.43 L150.50,239.70 L149.00,239.96 L147.50,240.21 L146.00,240.46 L144.50,240.69 L143.00,240.92 L141.50,241.14 L140.00,241.35 L138.50,241.56 L137.00,241.76 L135.50,241.95 L134.00,242.14 L132.50,242.32 L131.00,242.49 L129.50,242.66 L128.00,242.82 L126.50,242.97 L125.00,243.13 L123.50,243.27 L122.00,243.41 L120.50,243.55 L119.00,243.68 L117.50,243.80 L116.00,243.92 L114.50,244.04 L113.00,244.15 L111.50,244.26 L110.00,244.37 L108.50,244.47 L107.00,244.57 L105.50,244.66 L104.00,244.75 L102.50,244.84 L101.00,244.93 L99.50,245.01 L98.00,245.09 L96.50,245.16 L95.00,245.24 L93.50,245.31 L92.00,245.37 L90.50,245.44 L89.00,245.50 L87.50,245.56 L86.00,245.62 L84.50,245.68 L83.00,245.73 L81.50,245.78 L80.00,245.83 L78.50,245.88 L77.00,245.93 L75.50,245.97 L74.00,246.02 L72.50,246.06 L71.00,246.10 L69.50,246.14 L68.00,246.18" stroke="#ff2a2a" stroke-width="1.3" stroke-dasharray="2.5 6.665" stroke-dashoffset="0.8" fill="none" clip-path="url(#cgreen)"/>
<path d="M427.00,55.82 L425.50,57.32 L424.00,58.82 L422.50,60.32 L421.00,61.82 L419.50,63.32 L418.00,64.82 L416.50,66.32 L415.00,67.82 L413.50,69.32 L412.00,70.82 L410.50,72.32 L409.00,73.82 L407.50,75.32 L406.00,76.82 L404.50,78.32 L403.00,79.82 L401.50,81.32 L400.00,82.82 L398.50,84.33 L397.00,85.83 L395.50,87.33 L394.00,88.83 L392.50,90.33 L391.00,91.83 L389.50,93.33 L388.00,94.83 L386.50,96.33 L385.00,97.83 L383.50,99.33 L382.00,100.83 L380.50,102.33 L379.00,103.84 L377.50,105.34 L376.00,106.84 L374.50,108.34 L373.00,109.84 L371.50,111.34 L370.00,112.84 L368.50,114.35 L367.00,115.85 L365.50,117.35 L364.00,118.85 L362.50,120.36 L361.00,121.86 L359.50,123.36 L358.00,124.87 L356.50,126.37 L355.00,127.87 L353.50,129.38 L352.00,130.88 L350.50,132.39 L349.00,133.89 L347.50,135.40 L346.00,136.90 L344.50,138.41 L343.00,139.92 L341.50,141.43 L340.00,142.93 L338.50,144.44 L337.00,145.95 L335.50,147.46 L334.00,148.98 L332.50,150.49 L331.00,152.00 L329.50,153.52 L328.00,155.03 L326.50,156.55 L325.00,158.07 L323.50,159.59 L322.00,161.11 L320.50,162.63 L319.00,164.16 L317.50,165.68 L316.00,167.21 L314.50,168.74 L313.00,170.28 L311.50,171.81 L310.00,173.35 L308.50,174.90 L307.00,176.44 L305.50,177.99 L304.00,179.54 L302.50,181.10 L301.00,182.66 L299.50,184.23 L298.00,185.80 L296.50,187.38 L295.00,188.97 L293.50,190.56 L292.00,192.16 L290.50,193.76 L289.00,195.38 L287.50,197.00 L286.00,198.64 L284.50,200.28 L283.00,201.94 L281.50,203.61 L280.00,205.29 L278.50,206.98 L277.00,208.69 L275.50,210.42 L274.00,212.17 L272.50,213.94 L271.00,215.72 L269.50,217.53 L268.00,219.37 L266.50,221.23 L265.00,223.12 L263.50,225.04 L262.00,227.00 L260.50,229.00 L259.00,231.03 L257.50,233.11 L256.00,235.23 L254.50,237.41 L253.00,239.65 L251.50,241.95 L250.00,244.31 L249.50,245.12 L249.00,245.93 L248.50,246.76 L248.00,247.59 L247.50,248.43 L247.00,249.28 L246.50,250.15 L246.00,251.02 L245.50,251.90 L245.00,252.80 L244.50,253.71 L244.00,254.63 L243.50,255.56 L243.00,256.50 L242.50,257.46 L242.00,258.44 L241.50,259.43 L241.00,260.43 L240.50,261.46 L240.00,262.49 L239.50,263.55 L239.00,264.63 L238.50,265.72 L238.00,266.84 L237.50,267.97 L237.00,269.13 L236.50,270.31 L236.00,271.52 L235.50,272.76 L235.00,274.02 L234.50,275.31 L234.00,276.63 L233.50,277.98 L233.00,279.37 L232.50,280.80 L232.00,282.27 L231.50,283.77 L231.00,285.33 L230.50,286.93 L230.00,288.58 L229.50,290.29 L229.00,292.06 L228.50,293.89 L228.00,295.79 L227.50,297.78 L227.00,299.84 L226.50,302.00 L226.00,304.27 L225.75,305.44 L225.50,306.65 L225.25,307.88 L225.00,309.15 L224.75,310.46 L224.50,311.80 L224.25,313.19 L224.00,314.62 L223.75,316.09 L223.50,317.62 L223.25,319.20 L223.00,320.84 L222.75,322.54 L222.50,324.31 L222.25,326.15 L222.00,328.08 L221.75,330.10 L221.50,332.21 L221.25,334.43 L221.00,336.78 L220.75,339.26 L220.50,341.90 L220.25,344.71 L220.00,347.72 L219.75,350.97 L219.50,354.50 L219.25,358.36 L219.00,362.61 L218.75,367.36 L218.50,372.74 L218.25,377.00 L218.00,377.00 L217.75,377.00 L217.50,377.00 L217.25,377.00 L217.00,377.00 L216.75,377.00 L216.50,377.00 L216.25,377.00 L216.00,377.00 L215.75,377.00 L215.50,377.00 L215.25,377.00 L215.00,373.19 L214.75,368.13 L214.50,363.67 L214.25,359.69 L214.00,356.09 L213.75,352.81 L213.50,349.81 L213.25,347.03 L213.00,344.45 L212.75,342.04 L212.50,339.78 L212.25,337.65 L212.00,335.65 L211.75,333.75 L211.50,331.95 L211.25,330.24 L211.00,328.61 L210.75,327.05 L210.50,325.56 L210.25,324.13 L210.00,322.76 L209.75,321.44 L209.50,320.17 L209.25,318.95 L209.00,317.77 L208.75,316.63 L208.50,315.53 L208.25,314.47 L208.00,313.44 L207.50,311.47 L207.00,309.61 L206.50,307.86 L206.00,306.20 L205.50,304.63 L205.00,303.13 L204.50,301.70 L204.00,300.33 L203.50,299.03 L203.00,297.78 L202.50,296.58 L202.00,295.43 L201.50,294.33 L201.00,293.27 L200.50,292.24 L200.00,291.26 L199.50,290.30 L199.00,289.39 L198.50,288.50 L198.00,287.64 L197.50,286.80 L197.00,286.00 L196.50,285.22 L196.00,284.46 L195.50,283.73 L195.00,283.01 L194.50,282.32 L194.00,281.65 L193.50,280.99 L193.00,280.35 L192.50,279.74 L192.00,279.13 L191.50,278.54 L191.00,277.97 L189.50,276.34 L188.00,274.82 L186.50,273.41 L185.00,272.10 L183.50,270.87 L182.00,269.71 L180.50,268.63 L179.00,267.61 L177.50,266.65 L176.00,265.75 L174.50,264.90 L173.00,264.09 L171.50,263.33 L170.00,262.61 L168.50,261.92 L167.00,261.27 L165.50,260.66 L164.00,260.07 L162.50,259.51 L161.00,258.98 L159.50,258.48 L158.00,258.00 L156.50,257.54 L155.00,257.11 L153.50,256.69 L152.00,256.30 L150.50,255.92 L149.00,255.56 L147.50,255.21 L146.00,254.88 L144.50,254.57 L143.00,254.26 L141.50,253.98 L140.00,253.70 L138.50,253.44 L137.00,253.18 L135.50,252.94 L134.00,252.71 L132.50,252.49 L131.00,252.28 L129.50,252.07 L128.00,251.88 L126.50,251.69 L125.00,251.51 L123.50,251.34 L122.00,251.17 L120.50,251.02 L119.00,250.86 L117.50,250.72 L116.00,250.58 L114.50,250.44 L113.00,250.32 L111.50,250.19 L110.00,250.07 L108.50,249.96 L107.00,249.85 L105.50,249.75 L104.00,249.64 L102.50,249.55 L101.00,249.46 L99.50,249.37 L98.00,249.28 L96.50,249.20 L95.00,249.12 L93.50,249.04 L92.00,248.97 L90.50,248.90 L89.00,248.83 L87.50,248.77 L86.00,248.70 L84.50,248.64 L83.00,248.59 L81.50,248.53 L80.00,248.48 L78.50,248.43 L77.00,248.38 L75.50,248.33 L74.00,248.29 L72.50,248.24 L71.00,248.20 L69.50,248.16 L68.00,248.12" stroke="#ff2a2a" stroke-width="1" stroke-opacity="0.5" stroke-dasharray="2.5 6.665" stroke-dashoffset="1.15" fill="none" clip-path="url(#cred)"/>
<path d="M427.00,55.82 L425.50,57.32 L424.00,58.82 L422.50,60.32 L421.00,61.82 L419.50,63.32 L418.00,64.82 L416.50,66.32 L415.00,67.82 L413.50,69.32 L412.00,70.82 L410.50,72.32 L409.00,73.82 L407.50,75.32 L406.00,76.82 L404.50,78.32 L403.00,79.82 L401.50,81.32 L400.00,82.82 L398.50,84.33 L397.00,85.83 L395.50,87.33 L394.00,88.83 L392.50,90.33 L391.00,91.83 L389.50,93.33 L388.00,94.83 L386.50,96.33 L385.00,97.83 L383.50,99.33 L382.00,100.83 L380.50,102.33 L379.00,103.84 L377.50,105.34 L376.00,106.84 L374.50,108.34 L373.00,109.84 L371.50,111.34 L370.00,112.84 L368.50,114.35 L367.00,115.85 L365.50,117.35 L364.00,118.85 L362.50,120.36 L361.00,121.86 L359.50,123.36 L358.00,124.87 L356.50,126.37 L355.00,127.87 L353.50,129.38 L352.00,130.88 L350.50,132.39 L349.00,133.89 L347.50,135.40 L346.00,136.90 L344.50,138.41 L343.00,139.92 L341.50,141.43 L340.00,142.93 L338.50,144.44 L337.00,145.95 L335.50,147.46 L334.00,148.98 L332.50,150.49 L331.00,152.00 L329.50,153.52 L328.00,155.03 L326.50,156.55 L325.00,158.07 L323.50,159.59 L322.00,161.11 L320.50,162.63 L319.00,164.16 L317.50,165.68 L316.00,167.21 L314.50,168.74 L313.00,170.28 L311.50,171.81 L310.00,173.35 L308.50,174.90 L307.00,176.44 L305.50,177.99 L304.00,179.54 L302.50,181.10 L301.00,182.66 L299.50,184.23 L298.00,185.80 L296.50,187.38 L295.00,188.97 L293.50,190.56 L292.00,192.16 L290.50,193.76 L289.00,195.38 L287.50,197.00 L286.00,198.64 L284.50,200.28 L283.00,201.94 L281.50,203.61 L280.00,205.29 L278.50,206.98 L277.00,208.69 L275.50,210.42 L274.00,212.17 L272.50,213.94 L271.00,215.72 L269.50,217.53 L268.00,219.37 L266.50,221.23 L265.00,223.12 L263.50,225.04 L262.00,227.00 L260.50,229.00 L259.00,231.03 L257.50,233.11 L256.00,235.23 L254.50,237.41 L253.00,239.65 L251.50,241.95 L250.00,244.31 L249.50,245.12 L249.00,245.93 L248.50,246.76 L248.00,247.59 L247.50,248.43 L247.00,249.28 L246.50,250.15 L246.00,251.02 L245.50,251.90 L245.00,252.80 L244.50,253.71 L244.00,254.63 L243.50,255.56 L243.00,256.50 L242.50,257.46 L242.00,258.44 L241.50,259.43 L241.00,260.43 L240.50,261.46 L240.00,262.49 L239.50,263.55 L239.00,264.63 L238.50,265.72 L238.00,266.84 L237.50,267.97 L237.00,269.13 L236.50,270.31 L236.00,271.52 L235.50,272.76 L235.00,274.02 L234.50,275.31 L234.00,276.63 L233.50,277.98 L233.00,279.37 L232.50,280.80 L232.00,282.27 L231.50,283.77 L231.00,285.33 L230.50,286.93 L230.00,288.58 L229.50,290.29 L229.00,292.06 L228.50,293.89 L228.00,295.79 L227.50,297.78 L227.00,299.84 L226.50,302.00 L226.00,304.27 L225.75,305.44 L225.50,306.65 L225.25,307.88 L225.00,309.15 L224.75,310.46 L224.50,311.80 L224.25,313.19 L224.00,314.62 L223.75,316.09 L223.50,317.62 L223.25,319.20 L223.00,320.84 L222.75,322.54 L222.50,324.31 L222.25,326.15 L222.00,328.08 L221.75,330.10 L221.50,332.21 L221.25,334.43 L221.00,336.78 L220.75,339.26 L220.50,341.90 L220.25,344.71 L220.00,347.72 L219.75,350.97 L219.50,354.50 L219.25,358.36 L219.00,362.61 L218.75,367.36 L218.50,372.74 L218.25,377.00 L218.00,377.00 L217.75,377.00 L217.50,377.00 L217.25,377.00 L217.00,377.00 L216.75,377.00 L216.50,377.00 L216.25,377.00 L216.00,377.00 L215.75,377.00 L215.50,377.00 L215.25,377.00 L215.00,373.19 L214.75,368.13 L214.50,363.67 L214.25,359.69 L214.00,356.09 L213.75,352.81 L213.50,349.81 L213.25,347.03 L213.00,344.45 L212.75,342.04 L212.50,339.78 L212.25,337.65 L212.00,335.65 L211.75,333.75 L211.50,331.95 L211.25,330.24 L211.00,328.61 L210.75,327.05 L210.50,325.56 L210.25,324.13 L210.00,322.76 L209.75,321.44 L209.50,320.17 L209.25,318.95 L209.00,317.77 L208.75,316.63 L208.50,315.53 L208.25,314.47 L208.00,313.44 L207.50,311.47 L207.00,309.61 L206.50,307.86 L206.00,306.20 L205.50,304.63 L205.00,303.13 L204.50,301.70 L204.00,300.33 L203.50,299.03 L203.00,297.78 L202.50,296.58 L202.00,295.43 L201.50,294.33 L201.00,293.27 L200.50,292.24 L200.00,291.26 L199.50,290.30 L199.00,289.39 L198.50,288.50 L198.00,287.64 L197.50,286.80 L197.00,286.00 L196.50,285.22 L196.00,284.46 L195.50,283.73 L195.00,283.01 L194.50,282.32 L194.00,281.65 L193.50,280.99 L193.00,280.35 L192.50,279.74 L192.00,279.13 L191.50,278.54 L191.00,277.97 L189.50,276.34 L188.00,274.82 L186.50,273.41 L185.00,272.10 L183.50,270.87 L182.00,269.71 L180.50,268.63 L179.00,267.61 L177.50,266.65 L176.00,265.75 L174.50,264.90 L173.00,264.09 L171.50,263.33 L170.00,262.61 L168.50,261.92 L167.00,261.27 L165.50,260.66 L164.00,260.07 L162.50,259.51 L161.00,258.98 L159.50,258.48 L158.00,258.00 L156.50,257.54 L155.00,257.11 L153.50,256.69 L152.00,256.30 L150.50,255.92 L149.00,255.56 L147.50,255.21 L146.00,254.88 L144.50,254.57 L143.00,254.26 L141.50,253.98 L140.00,253.70 L138.50,253.44 L137.00,253.18 L135.50,252.94 L134.00,252.71 L132.50,252.49 L131.00,252.28 L129.50,252.07 L128.00,251.88 L126.50,251.69 L125.00,251.51 L123.50,251.34 L122.00,251.17 L120.50,251.02 L119.00,250.86 L117.50,250.72 L116.00,250.58 L114.50,250.44 L113.00,250.32 L111.50,250.19 L110.00,250.07 L108.50,249.96 L107.00,249.85 L105.50,249.75 L104.00,249.64 L102.50,249.55 L101.00,249.46 L99.50,249.37 L98.00,249.28 L96.50,249.20 L95.00,249.12 L93.50,249.04 L92.00,248.97 L90.50,248.90 L89.00,248.83 L87.50,248.77 L86.00,248.70 L84.50,248.64 L83.00,248.59 L81.50,248.53 L80.00,248.48 L78.50,248.43 L77.00,248.38 L75.50,248.33 L74.00,248.29 L72.50,248.24 L71.00,248.20 L69.50,248.16 L68.00,248.12" stroke="#ff2a2a" stroke-width="1.3" stroke-dasharray="2.5 6.665" stroke-dashoffset="1.15" fill="none" clip-path="url(#cgreen)"/>
<rect x="65.5" y="14.5" width="365.6" height="365.6" fill="none" stroke="#666" stroke-width="1"/>
<path d="M68.50,380.10 L68.50,377.10 M68.50,14.50 L68.50,17.50 M65.50,377.50 L68.50,377.50 M431.10,377.50 L428.10,377.50 M95.50,380.10 L95.50,377.60 M95.50,14.50 L95.50,17.00 M65.50,349.50 L68.00,349.50 M431.10,349.50 L428.60,349.50 M110.50,380.10 L110.50,377.60 M110.50,14.50 L110.50,17.00 M65.50,334.50 L68.00,334.50 M431.10,334.50 L428.60,334.50 M122.50,380.10 L122.50,377.60 M122.50,14.50 L122.50,17.00 M65.50,322.50 L68.00,322.50 M431.10,322.50 L428.60,322.50 M130.50,380.10 L130.50,377.60 M130.50,14.50 L130.50,17.00 M65.50,314.50 L68.00,314.50 M431.10,314.50 L428.60,314.50 M138.50,380.10 L138.50,377.60 M138.50,14.50 L138.50,17.00 M65.50,306.50 L68.00,306.50 M431.10,306.50 L428.60,306.50 M144.50,380.10 L144.50,377.60 M144.50,14.50 L144.50,17.00 M65.50,300.50 L68.00,300.50 M431.10,300.50 L428.60,300.50 M149.50,380.10 L149.50,377.60 M149.50,14.50 L149.50,17.00 M65.50,295.50 L68.00,295.50 M431.10,295.50 L428.60,295.50 M153.50,380.10 L153.50,377.60 M153.50,14.50 L153.50,17.00 M65.50,291.50 L68.00,291.50 M431.10,291.50 L428.60,291.50 M158.50,380.10 L158.50,377.10 M158.50,14.50 L158.50,17.50 M65.50,287.50 L68.50,287.50 M431.10,287.50 L428.10,287.50 M185.50,380.10 L185.50,377.60 M185.50,14.50 L185.50,17.00 M65.50,259.50 L68.00,259.50 M431.10,259.50 L428.60,259.50 M200.50,380.10 L200.50,377.60 M200.50,14.50 L200.50,17.00 M65.50,244.50 L68.00,244.50 M431.10,244.50 L428.60,244.50 M212.50,380.10 L212.50,377.60 M212.50,14.50 L212.50,17.00 M65.50,232.50 L68.00,232.50 M431.10,232.50 L428.60,232.50 M220.50,380.10 L220.50,377.60 M220.50,14.50 L220.50,17.00 M65.50,224.50 L68.00,224.50 M431.10,224.50 L428.60,224.50 M228.50,380.10 L228.50,377.60 M228.50,14.50 L228.50,17.00 M65.50,216.50 L68.00,216.50 M431.10,216.50 L428.60,216.50 M234.50,380.10 L234.50,377.60 M234.50,14.50 L234.50,17.00 M65.50,210.50 L68.00,210.50 M431.10,210.50 L428.60,210.50 M239.50,380.10 L239.50,377.60 M239.50,14.50 L239.50,17.00 M65.50,205.50 L68.00,205.50 M431.10,205.50 L428.60,205.50 M243.50,380.10 L243.50,377.60 M243.50,14.50 L243.50,17.00 M65.50,201.50 L68.00,201.50 M431.10,201.50 L428.60,201.50 M248.50,380.10 L248.50,377.10 M248.50,14.50 L248.50,17.50 M65.50,197.50 L68.50,197.50 M431.10,197.50 L428.10,197.50 M275.50,380.10 L275.50,377.60 M275.50,14.50 L275.50,17.00 M65.50,169.50 L68.00,169.50 M431.10,169.50 L428.60,169.50 M290.50,380.10 L290.50,377.60 M290.50,14.50 L290.50,17.00 M65.50,154.50 L68.00,154.50 M431.10,154.50 L428.60,154.50 M302.50,380.10 L302.50,377.60 M302.50,14.50 L302.50,17.00 M65.50,142.50 L68.00,142.50 M431.10,142.50 L428.60,142.50 M310.50,380.10 L310.50,377.60 M310.50,14.50 L310.50,17.00 M65.50,134.50 L68.00,134.50 M431.10,134.50 L428.60,134.50 M318.50,380.10 L318.50,377.60 M318.50,14.50 L318.50,17.00 M65.50,126.50 L68.00,126.50 M431.10,126.50 L428.60,126.50 M324.50,380.10 L324.50,377.60 M324.50,14.50 L324.50,17.00 M65.50,120.50 L68.00,120.50 M431.10,120.50 L428.60,120.50 M329.50,380.10 L329.50,377.60 M329.50,14.50 L329.50,17.00 M65.50,115.50 L68.00,115.50 M431.10,115.50 L428.60,115.50 M333.50,380.10 L333.50,377.60 M333.50,14.50 L333.50,17.00 M65.50,111.50 L68.00,111.50 M431.10,111.50 L428.60,111.50 M338.50,380.10 L338.50,377.10 M338.50,14.50 L338.50,17.50 M65.50,107.50 L68.50,107.50 M431.10,107.50 L428.10,107.50 M365.50,380.10 L365.50,377.60 M365.50,14.50 L365.50,17.00 M65.50,79.50 L68.00,79.50 M431.10,79.50 L428.60,79.50 M380.50,380.10 L380.50,377.60 M380.50,14.50 L380.50,17.00 M65.50,64.50 L68.00,64.50 M431.10,64.50 L428.60,64.50 M392.50,380.10 L392.50,377.60 M392.50,14.50 L392.50,17.00 M65.50,52.50 L68.00,52.50 M431.10,52.50 L428.60,52.50 M400.50,380.10 L400.50,377.60 M400.50,14.50 L400.50,17.00 M65.50,44.50 L68.00,44.50 M431.10,44.50 L428.60,44.50 M408.50,380.10 L408.50,377.60 M408.50,14.50 L408.50,17.00 M65.50,36.50 L68.00,36.50 M431.10,36.50 L428.60,36.50 M414.50,380.10 L414.50,377.60 M414.50,14.50 L414.50,17.00 M65.50,30.50 L68.00,30.50 M431.10,30.50 L428.60,30.50 M419.50,380.10 L419.50,377.60 M419.50,14.50 L419.50,17.00 M65.50,25.50 L68.00,25.50 M431.10,25.50 L428.60,25.50 M423.50,380.10 L423.50,377.60 M423.50,14.50 L423.50,17.00 M65.50,21.50 L68.00,21.50 M431.10,21.50 L428.60,21.50 M428.50,380.10 L428.50,377.10 M428.50,14.50 L428.50,17.50 M65.50,17.50 L68.50,17.50 M431.10,17.50 L428.10,17.50" stroke="#555" stroke-width="1" fill="none"/>
<text x="70.8" y="402.7" font-size="18.15" text-anchor="end">10</text><text x="70.4" y="395.4" font-size="13.4">-4</text>
<text x="160.8" y="402.7" font-size="18.15" text-anchor="end">10</text><text x="160.4" y="395.4" font-size="13.4">-3</text>
<text x="250.8" y="402.7" font-size="18.15" text-anchor="end">10</text><text x="250.4" y="395.4" font-size="13.4">-2</text>
<text x="340.8" y="402.7" font-size="18.15" text-anchor="end">10</text><text x="340.4" y="395.4" font-size="13.4">-1</text>
<text x="428.2" y="400.1" font-size="18.15" text-anchor="middle">1</text>
<text x="45.1" y="112.9" font-size="18.15" text-anchor="end">10</text><text x="44.7" y="105.6" font-size="13.4">-1</text>
<text x="45.1" y="202.9" font-size="18.15" text-anchor="end">10</text><text x="44.7" y="195.6" font-size="13.4">-2</text>
<text x="45.1" y="292.9" font-size="18.15" text-anchor="end">10</text><text x="44.7" y="285.6" font-size="13.4">-3</text>
<text x="45.1" y="382.9" font-size="18.15" text-anchor="end">10</text><text x="44.7" y="375.6" font-size="13.4">-4</text>
<text x="57.1" y="21.8" font-size="18.15" text-anchor="end">1</text>
<text x="248.3" y="422.7" font-size="18.12" text-anchor="middle">lightest neutrino mass in eV</text>
<g transform="translate(15.5,237.2) rotate(-90)"><path d="M0,4 V-14.1 M38.8,4 V-14.1" stroke="#000" stroke-width="1.1" fill="none"/><text x="5.3" y="0" font-size="18.2" font-style="italic">m</text><text x="18.2" y="2.8" font-size="14.2" font-style="italic">ee</text><text x="47.2" y="0" font-size="18.2">in</text><text x="63.0" y="0" font-size="18.6">e</text><text x="71.6" y="0" font-size="18.2">V</text></g>
<text x="80" y="41.7" font-size="18.15">disfavoured by 0<tspan dx="0.6">ν</tspan><tspan dx="1.3">2</tspan><tspan dx="-0.4">β</tspan></text>
<text transform="translate(398.3,172.3) rotate(90)" font-size="18.2">disfavoured by cosmology</text>
<text x="80.2" y="362.7" font-size="18.3">99% CL (1 dof<tspan dx="0.9">)</tspan></text>
<g fill="#000"><text x="160.6" y="157.5" font-size="18.6">Δ<tspan font-style="italic">m</tspan></text><text x="186.5" y="150.2" font-size="13" font-style="italic">2</text><text x="186.4" y="162.1" font-size="13" font-style="italic">23</text><text x="213.7" y="157.5" font-size="18.2">&lt;</text><text x="231.4" y="157.5" font-size="18.2">0</text></g>
<g fill="#fff"><text x="160.6" y="256.8" font-size="18.6">Δ<tspan font-style="italic">m</tspan></text><text x="186.5" y="249.5" font-size="13" font-style="italic">2</text><text x="186.4" y="261.4" font-size="13" font-style="italic">23</text><text x="213.7" y="256.8" font-size="18.2">&gt;</text><text x="231.4" y="256.8" font-size="18.2">0</text></g>
</svg>
</body></html>
